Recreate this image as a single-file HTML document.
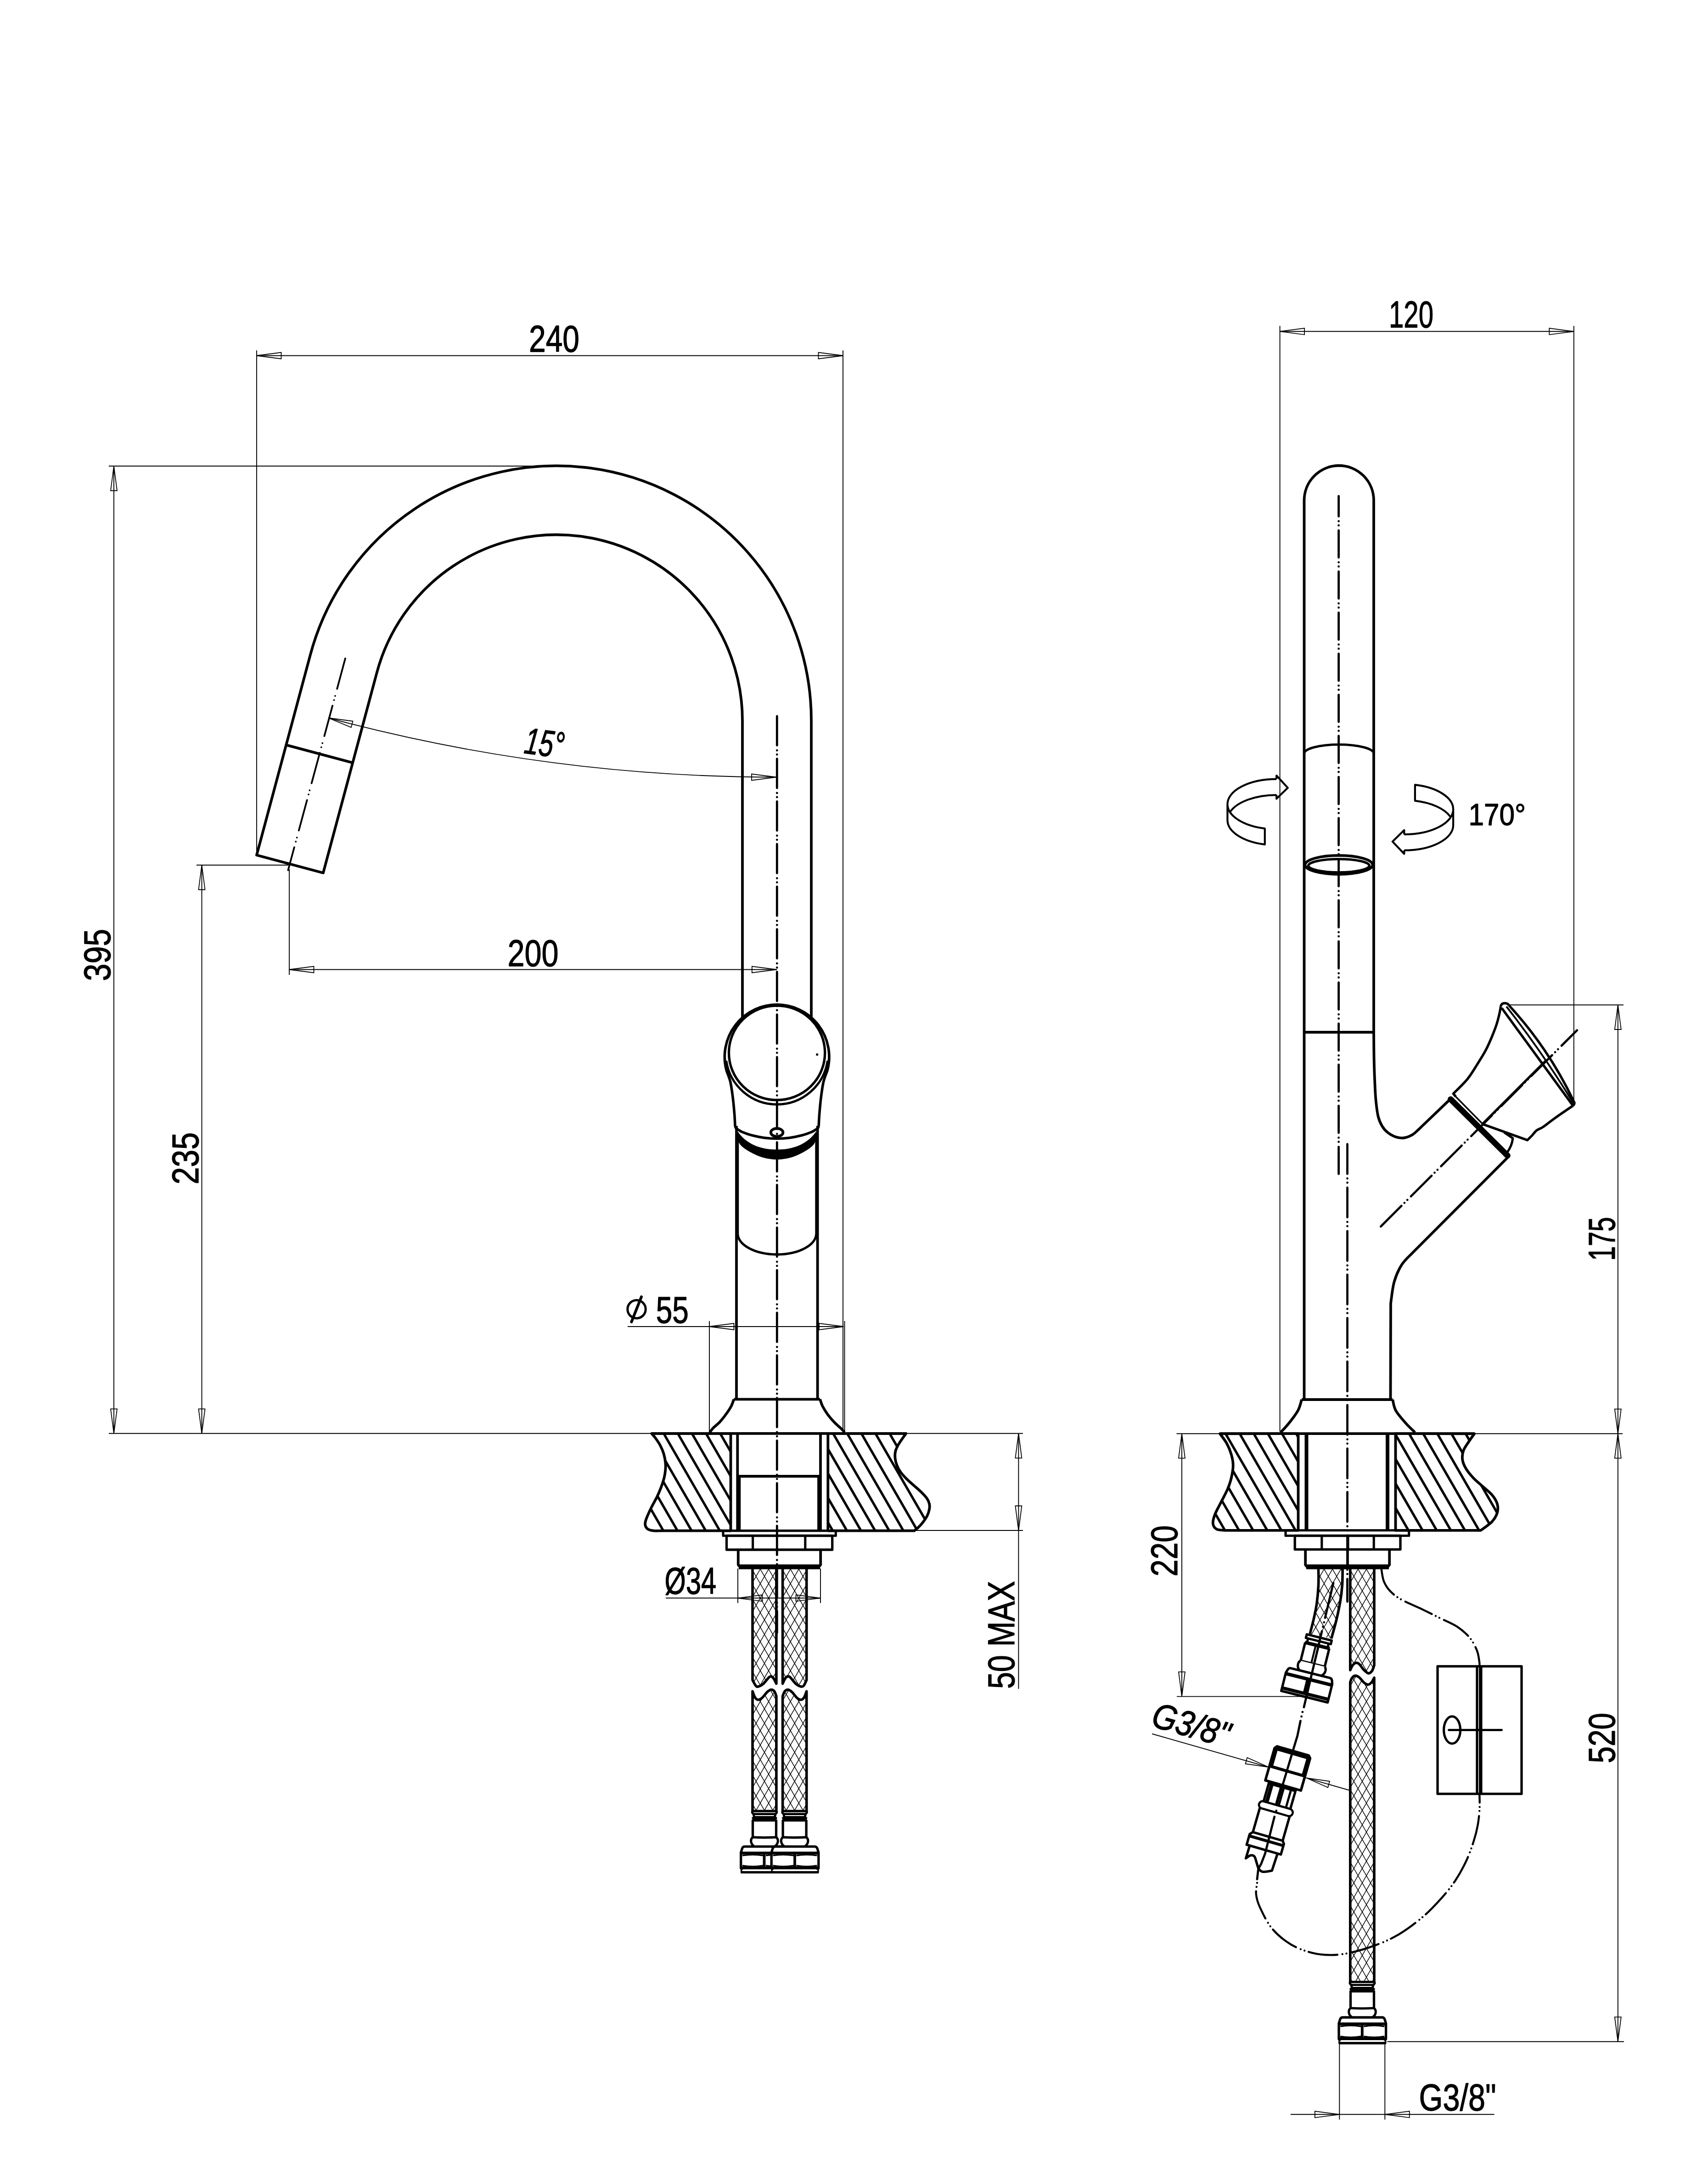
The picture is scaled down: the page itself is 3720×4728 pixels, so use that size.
<!DOCTYPE html>
<html><head><meta charset="utf-8"><title>Faucet technical drawing</title>
<style>html,body{margin:0;padding:0;background:#fff}svg{display:block}text{font-family:"Liberation Sans",sans-serif;fill:#000;stroke:#000;stroke-width:1.3px;stroke-linejoin:round}</style>
</head><body>
<svg width="3720" height="4728" viewBox="0 0 3720 4728" fill="none" stroke="#000" stroke-linecap="butt" stroke-linejoin="round">
<rect x="0" y="0" width="3720" height="4728" fill="#fff" stroke="none"/>
<g id="left-view">
<line x1="559" y1="763" x2="559" y2="1863" stroke-width="1.9" />
<line x1="1836" y1="763" x2="1836" y2="3121" stroke-width="1.9" />
<line x1="559" y1="774.5" x2="1836" y2="774.5" stroke-width="1.9" />
<path d="M559 774.5 L612.5 767.5 L612.5 781.5Z" stroke-width="1.8" fill="none" stroke-linejoin="miter"/>
<path d="M1836 774.5 L1782.5 781.5 L1782.5 767.5Z" stroke-width="1.8" fill="none" stroke-linejoin="miter"/>
<line x1="237" y1="1015" x2="1212" y2="1015" stroke-width="1.9" />
<line x1="237" y1="3121.8" x2="2228" y2="3121.8" stroke-width="1.9" />
<line x1="248" y1="1015" x2="248" y2="3121.8" stroke-width="1.9" />
<path d="M248 1015 L255 1068.5 L241 1068.5Z" stroke-width="1.8" fill="none" stroke-linejoin="miter"/>
<path d="M248 3121.8 L241 3068.3 L255 3068.3Z" stroke-width="1.8" fill="none" stroke-linejoin="miter"/>
<line x1="428" y1="1884" x2="628" y2="1884" stroke-width="1.9" />
<line x1="439.5" y1="1884" x2="439.5" y2="3121.8" stroke-width="1.9" />
<path d="M439.5 1884 L446.5 1937.5 L432.5 1937.5Z" stroke-width="1.8" fill="none" stroke-linejoin="miter"/>
<path d="M439.5 3121.8 L432.5 3068.3 L446.5 3068.3Z" stroke-width="1.8" fill="none" stroke-linejoin="miter"/>
<line x1="630" y1="1893" x2="630" y2="2123" stroke-width="1.9" />
<line x1="630" y1="2111.5" x2="1692.3" y2="2111.5" stroke-width="1.9" />
<path d="M630 2111.5 L683.5 2104.5 L683.5 2118.5Z" stroke-width="1.8" fill="none" stroke-linejoin="miter"/>
<path d="M1691.3 2111.5 L1637.8 2118.5 L1637.8 2104.5Z" stroke-width="1.8" fill="none" stroke-linejoin="miter"/>
<path d="M715 1563.5 A3767 3767 0 0 0 1690 1692.5" stroke-width="1.9" fill="none" />
<path d="M715 1563.5 L768.5 1570.6 L764.9 1584.1Z" stroke-width="1.8" fill="none" stroke-linejoin="miter"/>
<path d="M1690.5 1692.5 L1637 1699.5 L1637 1685.5Z" stroke-width="1.8" fill="none" stroke-linejoin="miter"/>
<line x1="1367" y1="2889" x2="1837" y2="2889" stroke-width="1.9" />
<line x1="1545" y1="2877" x2="1545" y2="3119" stroke-width="1.9" />
<line x1="1839.5" y1="2877" x2="1839.5" y2="3120" stroke-width="1.9" />
<path d="M1545 2889 L1598.5 2882 L1598.5 2896Z" stroke-width="1.8" fill="none" stroke-linejoin="miter"/>
<path d="M1837.5 2889 L1784 2896 L1784 2882Z" stroke-width="1.8" fill="none" stroke-linejoin="miter"/>
<line x1="1450" y1="3480.3" x2="1787" y2="3480.3" stroke-width="1.9" />
<line x1="1607" y1="3416" x2="1607" y2="3491" stroke-width="1.9" />
<line x1="1787" y1="3416" x2="1787" y2="3491" stroke-width="1.9" />
<path d="M1607 3480.3 L1660.5 3473.3 L1660.5 3487.3Z" stroke-width="1.8" fill="none" stroke-linejoin="miter"/>
<path d="M1787 3480.3 L1733.5 3487.3 L1733.5 3473.3Z" stroke-width="1.8" fill="none" stroke-linejoin="miter"/>
<line x1="1994" y1="3333" x2="2228" y2="3333" stroke-width="1.9" />
<line x1="2218.4" y1="3121.8" x2="2218.4" y2="3678" stroke-width="1.9" />
<path d="M2218.4 3121.8 L2225.4 3175.3 L2211.4 3175.3Z" stroke-width="1.8" fill="none" stroke-linejoin="miter"/>
<path d="M2218.4 3333 L2211.4 3279.5 L2225.4 3279.5Z" stroke-width="1.8" fill="none" stroke-linejoin="miter"/>
<path d="M559 1862.2 L675.9 1425.9 A555 555 0 0 1 1767 1569.5 L1767 2216.5" stroke-width="5.8" fill="none" />
<path d="M703.9 1901 L820.8 1464.7 A405 405 0 0 1 1617 1569.5 L1617 2216.5" stroke-width="5.8" fill="none" />
<path d="M559 1862.2 L703.9 1901" stroke-width="5.8" fill="none" stroke-linecap="round"/>
<path d="M623.2 1622.4 L768.1 1661.2" stroke-width="5.8" fill="none" />
<path d="M752 1434 L627.5 1895" stroke-width="3.8" fill="none" stroke-linecap="round" stroke-dasharray="68.5 16 0 9.3 0 12.7" stroke-dashoffset="0"/>
<path d="M1600.8 2447 C1600.6 2443.1 1600.2 2433.5 1599.4 2423.8 C1598.6 2414 1597.4 2400.1 1595.9 2388.8 C1594.4 2377.4 1592.9 2365.3 1590.6 2355.5 C1588.3 2345.7 1583.8 2336.8 1581.9 2330 A113.8 113.8 0 1 1 1802.3 2330 C1800.4 2336.8 1795.9 2345.7 1793.6 2355.5 C1791.3 2365.3 1789.8 2377.4 1788.3 2388.8 C1786.8 2400.1 1785.6 2414 1784.8 2423.8 C1784 2433.5 1783.6 2443.1 1783.4 2447 Q1783.4 2455 1780.8 2457.5 C1778.4 2458.9 1772.3 2463.2 1766.4 2465.8 C1760.6 2468.3 1753.3 2470.7 1745.4 2472.8 C1737.6 2474.8 1728.1 2476.8 1719.2 2478 C1710.3 2479.2 1701.1 2479.8 1692.1 2479.8 C1683.1 2479.8 1673.9 2479.2 1665 2478 C1656.1 2476.8 1646.6 2474.8 1638.8 2472.8 C1630.9 2470.7 1623.6 2468.3 1617.8 2465.8 C1611.9 2463.2 1605.8 2458.9 1603.4 2457.5 Q1600.8 2455 1600.8 2447Z" stroke-width="5.6" fill="none" />
<ellipse cx="1692.1" cy="2292.9" rx="104.6" ry="102.8" stroke-width="5.3" fill="none"/>
<path d="M1581.8 2310 A111.5 111.5 0 0 0 1802.4 2310" stroke-width="4.9" fill="none" />
<ellipse cx="1692.1" cy="2466.3" rx="13.3" ry="8.8" stroke-width="5.8" fill="none"/>
<circle cx="1779.7" cy="2296.5" r="2.6" fill="#000" stroke="none"/>
<path d="M1607 2466.5 C1609.4 2469 1615.1 2476.7 1621.2 2481.5 C1627.4 2486.3 1636.1 2492 1644 2495.5 C1651.9 2499 1660.5 2501 1668.5 2502.5 C1676.5 2504 1684.2 2504.2 1692.1 2504.2 C1700 2504.2 1707.7 2504 1715.7 2502.5 C1723.7 2501 1732.3 2499 1740.2 2495.5 C1748.1 2492 1756.8 2486.3 1762.9 2481.5 C1769.1 2476.7 1774.8 2469 1777.2 2466.5 L1781 2468 C1779.4 2472 1776.7 2485.4 1771.7 2492 C1766.6 2498.6 1758.9 2503.1 1750.7 2507.8 C1742.5 2512.4 1732.5 2517.2 1722.7 2520 C1712.9 2522.8 1702.3 2524.4 1692.1 2524.4 C1681.9 2524.4 1671.3 2522.8 1661.5 2520 C1651.7 2517.2 1641.7 2512.4 1633.5 2507.8 C1625.3 2503.1 1617.5 2498.6 1612.5 2492 C1607.5 2485.4 1604.8 2472 1603.2 2468Z" stroke-width="1.5" fill="#000" />
<path d="M1606.6 2466 L1606.6 2686 A85.7 46 0 0 0 1778 2686 L1778 2466" stroke-width="5.3" fill="none" />
<line x1="1604" y1="2452" x2="1604" y2="3047.3" stroke-width="5.8" />
<line x1="1780.6" y1="2452" x2="1780.6" y2="3047.3" stroke-width="5.8" />
<line x1="1598.4" y1="3047.3" x2="1786" y2="3047.3" stroke-width="5.8" />
<path d="M1598.4 3047.3 C1597.4 3049.8 1595.2 3057.2 1592.5 3062.5 C1589.8 3067.8 1586.1 3073.2 1582 3078.9 C1577.9 3084.6 1572.6 3091.4 1567.9 3096.5 C1563.2 3101.6 1557.6 3105.5 1553.9 3109.3 C1550.2 3113.1 1547.1 3117.8 1545.7 3119.5" stroke-width="5.8" fill="none" />
<path d="M1786 3047.3 C1786.9 3049.8 1788.7 3056.8 1791.6 3062.5 C1794.5 3068.2 1798.8 3075.1 1803.3 3081.2 C1807.8 3087.2 1813.6 3093.7 1818.5 3098.8 C1823.4 3103.9 1829.1 3108.2 1832.6 3111.7 C1836.1 3115.1 1838.4 3118.2 1839.6 3119.5" stroke-width="5.8" fill="none" />
<clipPath id="hl"><path d="M1419.3 3121.9 C1420.8 3123.7 1424.8 3128 1428 3132.4 C1431.2 3136.8 1435.4 3142.9 1438.3 3148.5 C1441.2 3154.1 1443.8 3160 1445.6 3166.1 C1447.4 3172.2 1448.7 3179.2 1449.3 3185.1 C1449.9 3190.9 1449.8 3195.6 1449.3 3201.2 C1448.8 3206.8 1448 3212.5 1446.4 3218.8 C1444.8 3225.2 1442.4 3232.5 1439.8 3239.3 C1437.2 3246.1 1434.4 3252.7 1431 3259.8 C1427.6 3266.9 1422.8 3274.6 1419.3 3281.7 C1415.8 3288.8 1412.1 3296.6 1409.8 3302.2 C1407.5 3307.8 1406 3311.7 1405.4 3315.4 C1404.8 3319.1 1405 3321.6 1406.1 3324.2 C1407.2 3326.8 1409.1 3329.2 1412 3330.8 C1414.9 3332.4 1418.1 3333.1 1423.7 3333.6 C1429.3 3334.1 1441.9 3333.6 1445.6 3333.6 L1591.5 3333.6 L1591.5 3121.8Z"/></clipPath>
<g clip-path="url(#hl)">
<line x1="1311" y1="3101.8" x2="1456.3" y2="3353.6" stroke-width="5.3" />
<line x1="1341.7" y1="3101.8" x2="1487.1" y2="3353.6" stroke-width="5.3" />
<line x1="1372.5" y1="3101.8" x2="1517.8" y2="3353.6" stroke-width="5.3" />
<line x1="1403.2" y1="3101.8" x2="1548.6" y2="3353.6" stroke-width="5.3" />
<line x1="1434" y1="3101.8" x2="1579.3" y2="3353.6" stroke-width="5.3" />
<line x1="1464.7" y1="3101.8" x2="1610.1" y2="3353.6" stroke-width="5.3" />
<line x1="1495.5" y1="3101.8" x2="1640.8" y2="3353.6" stroke-width="5.3" />
<line x1="1526.2" y1="3101.8" x2="1671.6" y2="3353.6" stroke-width="5.3" />
<line x1="1557" y1="3101.8" x2="1702.3" y2="3353.6" stroke-width="5.3" />
<line x1="1587.7" y1="3101.8" x2="1733.1" y2="3353.6" stroke-width="5.3" />
<line x1="1618.5" y1="3101.8" x2="1763.8" y2="3353.6" stroke-width="5.3" />
<line x1="1649.2" y1="3101.8" x2="1794.6" y2="3353.6" stroke-width="5.3" />
</g>
<path d="M1419.3 3121.9 C1420.8 3123.7 1424.8 3128 1428 3132.4 C1431.2 3136.8 1435.4 3142.9 1438.3 3148.5 C1441.2 3154.1 1443.8 3160 1445.6 3166.1 C1447.4 3172.2 1448.7 3179.2 1449.3 3185.1 C1449.9 3190.9 1449.8 3195.6 1449.3 3201.2 C1448.8 3206.8 1448 3212.5 1446.4 3218.8 C1444.8 3225.2 1442.4 3232.5 1439.8 3239.3 C1437.2 3246.1 1434.4 3252.7 1431 3259.8 C1427.6 3266.9 1422.8 3274.6 1419.3 3281.7 C1415.8 3288.8 1412.1 3296.6 1409.8 3302.2 C1407.5 3307.8 1406 3311.7 1405.4 3315.4 C1404.8 3319.1 1405 3321.6 1406.1 3324.2 C1407.2 3326.8 1409.1 3329.2 1412 3330.8 C1414.9 3332.4 1418.1 3333.1 1423.7 3333.6 C1429.3 3334.1 1441.9 3333.6 1445.6 3333.6 L1591.5 3333.6 L1591.5 3121.8Z" stroke-width="5.8" fill="none" />
<clipPath id="hr"><path d="M1973.3 3121.9 C1972.2 3123.4 1969.4 3127 1966.7 3131 C1964 3135 1959.6 3140.8 1956.9 3145.7 C1954.2 3150.6 1951.5 3155.6 1950.3 3160.5 C1949.1 3165.4 1949 3170 1949.5 3175.2 C1950 3180.4 1951.5 3186.4 1953.6 3191.6 C1955.6 3196.8 1958.2 3201.5 1961.8 3206.4 C1965.3 3211.3 1970 3216.2 1974.9 3221.1 C1979.8 3226 1985.8 3231 1991.3 3235.9 C1996.8 3240.8 2003 3246 2007.7 3250.7 C2012.4 3255.3 2016.5 3259.7 2019.2 3263.8 C2021.9 3267.9 2023.3 3271.4 2024.1 3275.2 C2024.9 3279 2024.9 3282.3 2024.1 3286.7 C2023.3 3291.1 2021.7 3296.6 2019.2 3301.5 C2016.7 3306.4 2012.6 3312 2009.3 3316.2 C2006 3320.4 2002.5 3324 1999.5 3326.9 C1996.5 3329.8 1992.7 3332.5 1991.3 3333.6 L1803.3 3333.6 L1803.3 3121.8Z"/></clipPath>
<g clip-path="url(#hr)">
<line x1="1464.7" y1="3101.8" x2="1610.1" y2="3353.6" stroke-width="5.3" />
<line x1="1495.5" y1="3101.8" x2="1640.8" y2="3353.6" stroke-width="5.3" />
<line x1="1526.2" y1="3101.8" x2="1671.6" y2="3353.6" stroke-width="5.3" />
<line x1="1557" y1="3101.8" x2="1702.3" y2="3353.6" stroke-width="5.3" />
<line x1="1587.7" y1="3101.8" x2="1733.1" y2="3353.6" stroke-width="5.3" />
<line x1="1618.5" y1="3101.8" x2="1763.8" y2="3353.6" stroke-width="5.3" />
<line x1="1649.2" y1="3101.8" x2="1794.6" y2="3353.6" stroke-width="5.3" />
<line x1="1680" y1="3101.8" x2="1825.3" y2="3353.6" stroke-width="5.3" />
<line x1="1710.7" y1="3101.8" x2="1856.1" y2="3353.6" stroke-width="5.3" />
<line x1="1741.5" y1="3101.8" x2="1886.8" y2="3353.6" stroke-width="5.3" />
<line x1="1772.2" y1="3101.8" x2="1917.6" y2="3353.6" stroke-width="5.3" />
<line x1="1803" y1="3101.8" x2="1948.3" y2="3353.6" stroke-width="5.3" />
<line x1="1833.7" y1="3101.8" x2="1979.1" y2="3353.6" stroke-width="5.3" />
<line x1="1864.5" y1="3101.8" x2="2009.8" y2="3353.6" stroke-width="5.3" />
<line x1="1895.2" y1="3101.8" x2="2040.6" y2="3353.6" stroke-width="5.3" />
<line x1="1926" y1="3101.8" x2="2071.3" y2="3353.6" stroke-width="5.3" />
<line x1="1956.7" y1="3101.8" x2="2102.1" y2="3353.6" stroke-width="5.3" />
<line x1="1987.5" y1="3101.8" x2="2132.8" y2="3353.6" stroke-width="5.3" />
<line x1="2018.2" y1="3101.8" x2="2163.6" y2="3353.6" stroke-width="5.3" />
<line x1="2049" y1="3101.8" x2="2194.3" y2="3353.6" stroke-width="5.3" />
<line x1="2079.7" y1="3101.8" x2="2225.1" y2="3353.6" stroke-width="5.3" />
</g>
<path d="M1973.3 3121.9 C1972.2 3123.4 1969.4 3127 1966.7 3131 C1964 3135 1959.6 3140.8 1956.9 3145.7 C1954.2 3150.6 1951.5 3155.6 1950.3 3160.5 C1949.1 3165.4 1949 3170 1949.5 3175.2 C1950 3180.4 1951.5 3186.4 1953.6 3191.6 C1955.6 3196.8 1958.2 3201.5 1961.8 3206.4 C1965.3 3211.3 1970 3216.2 1974.9 3221.1 C1979.8 3226 1985.8 3231 1991.3 3235.9 C1996.8 3240.8 2003 3246 2007.7 3250.7 C2012.4 3255.3 2016.5 3259.7 2019.2 3263.8 C2021.9 3267.9 2023.3 3271.4 2024.1 3275.2 C2024.9 3279 2024.9 3282.3 2024.1 3286.7 C2023.3 3291.1 2021.7 3296.6 2019.2 3301.5 C2016.7 3306.4 2012.6 3312 2009.3 3316.2 C2006 3320.4 2002.5 3324 1999.5 3326.9 C1996.5 3329.8 1992.7 3332.5 1991.3 3333.6 L1803.3 3333.6 L1803.3 3121.8Z" stroke-width="5.8" fill="none" />
<line x1="1419.3" y1="3121.8" x2="1973.3" y2="3121.8" stroke-width="5.8" />
<line x1="1606.3" y1="3121.8" x2="1606.3" y2="3333.6" stroke-width="5.8" />
<line x1="1787" y1="3121.8" x2="1787" y2="3333.6" stroke-width="5.8" />
<line x1="1606.3" y1="3215" x2="1787" y2="3215" stroke-width="5.8" />
<line x1="1610.3" y1="3215" x2="1610.3" y2="3333.6" stroke-width="5.8" />
<line x1="1783" y1="3215" x2="1783" y2="3333.6" stroke-width="5.8" />
<rect x="1575" y="3333.6" width="245.3" height="10.9" stroke-width="5.1" fill="none"/>
<rect x="1582.5" y="3344.5" width="230.2" height="30.5" stroke-width="5.3" fill="none"/>
<line x1="1639.6" y1="3344.5" x2="1639.6" y2="3375" stroke-width="5.1" />
<line x1="1753.8" y1="3344.5" x2="1753.8" y2="3375" stroke-width="5.1" />
<path d="M1607.8 3375 L1607.8 3408 L1612 3413 L1783 3413 L1787.2 3408 L1787.2 3375" stroke-width="5.8" fill="none" />
<line x1="1609" y1="3412.3" x2="1786" y2="3412.3" stroke-width="10.5" />
<clipPath id="cua"><path d="M1639 3416 L1639 3658.7 C1640.2 3660.8 1644 3668.6 1646 3671 C1648 3673.4 1648.6 3673.7 1651.3 3673.1 C1654 3672.5 1658.1 3670.8 1661.9 3667.5 C1665.7 3664.2 1671.3 3656.3 1674.2 3653.5 C1677.1 3650.7 1677.7 3650.5 1679.4 3650.8 C1681.2 3651.1 1682.8 3652.6 1684.7 3655.2 C1686.6 3657.8 1689.9 3664.7 1690.9 3666.6 L1690.9 3416Z"/></clipPath><g clip-path="url(#cua)">
<line x1="1634" y1="3158.2" x2="1695.9" y2="3265.4" stroke-width="1.5" />
<line x1="1634" y1="3265.4" x2="1695.9" y2="3158.2" stroke-width="1.5" />
<line x1="1634" y1="3189.8" x2="1695.9" y2="3297" stroke-width="1.5" />
<line x1="1634" y1="3297" x2="1695.9" y2="3189.8" stroke-width="1.5" />
<line x1="1634" y1="3221.4" x2="1695.9" y2="3328.6" stroke-width="1.5" />
<line x1="1634" y1="3328.6" x2="1695.9" y2="3221.4" stroke-width="1.5" />
<line x1="1634" y1="3253" x2="1695.9" y2="3360.2" stroke-width="1.5" />
<line x1="1634" y1="3360.2" x2="1695.9" y2="3253" stroke-width="1.5" />
<line x1="1634" y1="3284.6" x2="1695.9" y2="3391.8" stroke-width="1.5" />
<line x1="1634" y1="3391.8" x2="1695.9" y2="3284.6" stroke-width="1.5" />
<line x1="1634" y1="3316.2" x2="1695.9" y2="3423.4" stroke-width="1.5" />
<line x1="1634" y1="3423.4" x2="1695.9" y2="3316.2" stroke-width="1.5" />
<line x1="1634" y1="3347.8" x2="1695.9" y2="3455" stroke-width="1.5" />
<line x1="1634" y1="3455" x2="1695.9" y2="3347.8" stroke-width="1.5" />
<line x1="1634" y1="3379.4" x2="1695.9" y2="3486.6" stroke-width="1.5" />
<line x1="1634" y1="3486.6" x2="1695.9" y2="3379.4" stroke-width="1.5" />
<line x1="1634" y1="3411" x2="1695.9" y2="3518.2" stroke-width="1.5" />
<line x1="1634" y1="3518.2" x2="1695.9" y2="3411" stroke-width="1.5" />
<line x1="1634" y1="3442.6" x2="1695.9" y2="3549.8" stroke-width="1.5" />
<line x1="1634" y1="3549.8" x2="1695.9" y2="3442.6" stroke-width="1.5" />
<line x1="1634" y1="3474.2" x2="1695.9" y2="3581.4" stroke-width="1.5" />
<line x1="1634" y1="3581.4" x2="1695.9" y2="3474.2" stroke-width="1.5" />
<line x1="1634" y1="3505.8" x2="1695.9" y2="3613" stroke-width="1.5" />
<line x1="1634" y1="3613" x2="1695.9" y2="3505.8" stroke-width="1.5" />
<line x1="1634" y1="3537.4" x2="1695.9" y2="3644.6" stroke-width="1.5" />
<line x1="1634" y1="3644.6" x2="1695.9" y2="3537.4" stroke-width="1.5" />
<line x1="1634" y1="3569" x2="1695.9" y2="3676.2" stroke-width="1.5" />
<line x1="1634" y1="3676.2" x2="1695.9" y2="3569" stroke-width="1.5" />
<line x1="1634" y1="3600.6" x2="1695.9" y2="3707.8" stroke-width="1.5" />
<line x1="1634" y1="3707.8" x2="1695.9" y2="3600.6" stroke-width="1.5" />
<line x1="1634" y1="3632.2" x2="1695.9" y2="3739.4" stroke-width="1.5" />
<line x1="1634" y1="3739.4" x2="1695.9" y2="3632.2" stroke-width="1.5" />
<line x1="1634" y1="3663.8" x2="1695.9" y2="3771" stroke-width="1.5" />
<line x1="1634" y1="3771" x2="1695.9" y2="3663.8" stroke-width="1.5" />
<line x1="1634" y1="3695.4" x2="1695.9" y2="3802.6" stroke-width="1.5" />
<line x1="1634" y1="3802.6" x2="1695.9" y2="3695.4" stroke-width="1.5" />
<line x1="1634" y1="3727" x2="1695.9" y2="3834.2" stroke-width="1.5" />
<line x1="1634" y1="3834.2" x2="1695.9" y2="3727" stroke-width="1.5" />
<line x1="1634" y1="3758.6" x2="1695.9" y2="3865.8" stroke-width="1.5" />
<line x1="1634" y1="3865.8" x2="1695.9" y2="3758.6" stroke-width="1.5" />
<line x1="1634" y1="3790.2" x2="1695.9" y2="3897.4" stroke-width="1.5" />
<line x1="1634" y1="3897.4" x2="1695.9" y2="3790.2" stroke-width="1.5" />
<line x1="1634" y1="3821.8" x2="1695.9" y2="3929" stroke-width="1.5" />
<line x1="1634" y1="3929" x2="1695.9" y2="3821.8" stroke-width="1.5" />
<line x1="1634" y1="3853.4" x2="1695.9" y2="3960.6" stroke-width="1.5" />
<line x1="1634" y1="3960.6" x2="1695.9" y2="3853.4" stroke-width="1.5" />
</g>
<path d="M1639 3416 L1639 3658.7 C1640.2 3660.8 1644 3668.6 1646 3671 C1648 3673.4 1648.6 3673.7 1651.3 3673.1 C1654 3672.5 1658.1 3670.8 1661.9 3667.5 C1665.7 3664.2 1671.3 3656.3 1674.2 3653.5 C1677.1 3650.7 1677.7 3650.5 1679.4 3650.8 C1681.2 3651.1 1682.8 3652.6 1684.7 3655.2 C1686.6 3657.8 1689.9 3664.7 1690.9 3666.6 L1690.9 3416" stroke-width="5.6" fill="none" />
<clipPath id="cla"><path d="M1639 3944.1 L1639 3683.3 C1639.9 3685.5 1642.2 3693.4 1644.3 3696.5 C1646.3 3699.6 1648.7 3701.7 1651.3 3701.8 C1653.9 3702 1656.9 3700.2 1660.1 3697.4 C1663.3 3694.6 1667.5 3688 1670.7 3685.1 C1673.9 3682.2 1676.8 3680.1 1679.4 3679.8 C1682 3679.5 1684.6 3681 1686.5 3683.3 C1688.4 3685.7 1690.2 3692.1 1690.9 3693.9 L1690.9 3944.1Z"/></clipPath><g clip-path="url(#cla)">
<line x1="1634" y1="3415" x2="1695.9" y2="3522.2" stroke-width="1.5" />
<line x1="1634" y1="3522.2" x2="1695.9" y2="3415" stroke-width="1.5" />
<line x1="1634" y1="3446.6" x2="1695.9" y2="3553.8" stroke-width="1.5" />
<line x1="1634" y1="3553.8" x2="1695.9" y2="3446.6" stroke-width="1.5" />
<line x1="1634" y1="3478.2" x2="1695.9" y2="3585.4" stroke-width="1.5" />
<line x1="1634" y1="3585.4" x2="1695.9" y2="3478.2" stroke-width="1.5" />
<line x1="1634" y1="3509.8" x2="1695.9" y2="3617" stroke-width="1.5" />
<line x1="1634" y1="3617" x2="1695.9" y2="3509.8" stroke-width="1.5" />
<line x1="1634" y1="3541.4" x2="1695.9" y2="3648.6" stroke-width="1.5" />
<line x1="1634" y1="3648.6" x2="1695.9" y2="3541.4" stroke-width="1.5" />
<line x1="1634" y1="3573" x2="1695.9" y2="3680.2" stroke-width="1.5" />
<line x1="1634" y1="3680.2" x2="1695.9" y2="3573" stroke-width="1.5" />
<line x1="1634" y1="3604.6" x2="1695.9" y2="3711.8" stroke-width="1.5" />
<line x1="1634" y1="3711.8" x2="1695.9" y2="3604.6" stroke-width="1.5" />
<line x1="1634" y1="3636.2" x2="1695.9" y2="3743.4" stroke-width="1.5" />
<line x1="1634" y1="3743.4" x2="1695.9" y2="3636.2" stroke-width="1.5" />
<line x1="1634" y1="3667.8" x2="1695.9" y2="3775" stroke-width="1.5" />
<line x1="1634" y1="3775" x2="1695.9" y2="3667.8" stroke-width="1.5" />
<line x1="1634" y1="3699.4" x2="1695.9" y2="3806.6" stroke-width="1.5" />
<line x1="1634" y1="3806.6" x2="1695.9" y2="3699.4" stroke-width="1.5" />
<line x1="1634" y1="3731" x2="1695.9" y2="3838.2" stroke-width="1.5" />
<line x1="1634" y1="3838.2" x2="1695.9" y2="3731" stroke-width="1.5" />
<line x1="1634" y1="3762.6" x2="1695.9" y2="3869.8" stroke-width="1.5" />
<line x1="1634" y1="3869.8" x2="1695.9" y2="3762.6" stroke-width="1.5" />
<line x1="1634" y1="3794.2" x2="1695.9" y2="3901.4" stroke-width="1.5" />
<line x1="1634" y1="3901.4" x2="1695.9" y2="3794.2" stroke-width="1.5" />
<line x1="1634" y1="3825.8" x2="1695.9" y2="3933" stroke-width="1.5" />
<line x1="1634" y1="3933" x2="1695.9" y2="3825.8" stroke-width="1.5" />
<line x1="1634" y1="3857.4" x2="1695.9" y2="3964.6" stroke-width="1.5" />
<line x1="1634" y1="3964.6" x2="1695.9" y2="3857.4" stroke-width="1.5" />
<line x1="1634" y1="3889" x2="1695.9" y2="3996.2" stroke-width="1.5" />
<line x1="1634" y1="3996.2" x2="1695.9" y2="3889" stroke-width="1.5" />
<line x1="1634" y1="3920.6" x2="1695.9" y2="4027.8" stroke-width="1.5" />
<line x1="1634" y1="4027.8" x2="1695.9" y2="3920.6" stroke-width="1.5" />
<line x1="1634" y1="3952.2" x2="1695.9" y2="4059.4" stroke-width="1.5" />
<line x1="1634" y1="4059.4" x2="1695.9" y2="3952.2" stroke-width="1.5" />
<line x1="1634" y1="3983.8" x2="1695.9" y2="4091" stroke-width="1.5" />
<line x1="1634" y1="4091" x2="1695.9" y2="3983.8" stroke-width="1.5" />
<line x1="1634" y1="4015.4" x2="1695.9" y2="4122.6" stroke-width="1.5" />
<line x1="1634" y1="4122.6" x2="1695.9" y2="4015.4" stroke-width="1.5" />
<line x1="1634" y1="4047" x2="1695.9" y2="4154.2" stroke-width="1.5" />
<line x1="1634" y1="4154.2" x2="1695.9" y2="4047" stroke-width="1.5" />
<line x1="1634" y1="4078.6" x2="1695.9" y2="4185.8" stroke-width="1.5" />
<line x1="1634" y1="4185.8" x2="1695.9" y2="4078.6" stroke-width="1.5" />
<line x1="1634" y1="4110.2" x2="1695.9" y2="4217.4" stroke-width="1.5" />
<line x1="1634" y1="4217.4" x2="1695.9" y2="4110.2" stroke-width="1.5" />
</g>
<path d="M1639 3944.1 L1639 3683.3 C1639.9 3685.5 1642.2 3693.4 1644.3 3696.5 C1646.3 3699.6 1648.7 3701.7 1651.3 3701.8 C1653.9 3702 1656.9 3700.2 1660.1 3697.4 C1663.3 3694.6 1667.5 3688 1670.7 3685.1 C1673.9 3682.2 1676.8 3680.1 1679.4 3679.8 C1682 3679.5 1684.6 3681 1686.5 3683.3 C1688.4 3685.7 1690.2 3692.1 1690.9 3693.9 L1690.9 3944.1" stroke-width="5.6" fill="none" />
<clipPath id="cub"><path d="M1704.6 3416 L1704.6 3666.6 C1705.5 3664.7 1708.2 3657.8 1710.2 3655.2 C1712.2 3652.6 1714.4 3651.1 1716.3 3650.8 C1718.2 3650.5 1718.7 3650.7 1721.6 3653.5 C1724.5 3656.3 1730.1 3664.2 1733.9 3667.5 C1737.7 3670.8 1741.6 3672.5 1744.4 3673.1 C1747.2 3673.7 1748.5 3673.4 1750.6 3671 C1752.6 3668.6 1755.7 3660.8 1756.7 3658.7 L1756.7 3416Z"/></clipPath><g clip-path="url(#cub)">
<line x1="1699.6" y1="3158" x2="1761.7" y2="3265.6" stroke-width="1.5" />
<line x1="1699.6" y1="3265.6" x2="1761.7" y2="3158" stroke-width="1.5" />
<line x1="1699.6" y1="3189.6" x2="1761.7" y2="3297.2" stroke-width="1.5" />
<line x1="1699.6" y1="3297.2" x2="1761.7" y2="3189.6" stroke-width="1.5" />
<line x1="1699.6" y1="3221.2" x2="1761.7" y2="3328.8" stroke-width="1.5" />
<line x1="1699.6" y1="3328.8" x2="1761.7" y2="3221.2" stroke-width="1.5" />
<line x1="1699.6" y1="3252.8" x2="1761.7" y2="3360.4" stroke-width="1.5" />
<line x1="1699.6" y1="3360.4" x2="1761.7" y2="3252.8" stroke-width="1.5" />
<line x1="1699.6" y1="3284.4" x2="1761.7" y2="3392" stroke-width="1.5" />
<line x1="1699.6" y1="3392" x2="1761.7" y2="3284.4" stroke-width="1.5" />
<line x1="1699.6" y1="3316" x2="1761.7" y2="3423.6" stroke-width="1.5" />
<line x1="1699.6" y1="3423.6" x2="1761.7" y2="3316" stroke-width="1.5" />
<line x1="1699.6" y1="3347.6" x2="1761.7" y2="3455.2" stroke-width="1.5" />
<line x1="1699.6" y1="3455.2" x2="1761.7" y2="3347.6" stroke-width="1.5" />
<line x1="1699.6" y1="3379.2" x2="1761.7" y2="3486.8" stroke-width="1.5" />
<line x1="1699.6" y1="3486.8" x2="1761.7" y2="3379.2" stroke-width="1.5" />
<line x1="1699.6" y1="3410.8" x2="1761.7" y2="3518.4" stroke-width="1.5" />
<line x1="1699.6" y1="3518.4" x2="1761.7" y2="3410.8" stroke-width="1.5" />
<line x1="1699.6" y1="3442.4" x2="1761.7" y2="3550" stroke-width="1.5" />
<line x1="1699.6" y1="3550" x2="1761.7" y2="3442.4" stroke-width="1.5" />
<line x1="1699.6" y1="3474" x2="1761.7" y2="3581.6" stroke-width="1.5" />
<line x1="1699.6" y1="3581.6" x2="1761.7" y2="3474" stroke-width="1.5" />
<line x1="1699.6" y1="3505.6" x2="1761.7" y2="3613.2" stroke-width="1.5" />
<line x1="1699.6" y1="3613.2" x2="1761.7" y2="3505.6" stroke-width="1.5" />
<line x1="1699.6" y1="3537.2" x2="1761.7" y2="3644.8" stroke-width="1.5" />
<line x1="1699.6" y1="3644.8" x2="1761.7" y2="3537.2" stroke-width="1.5" />
<line x1="1699.6" y1="3568.8" x2="1761.7" y2="3676.4" stroke-width="1.5" />
<line x1="1699.6" y1="3676.4" x2="1761.7" y2="3568.8" stroke-width="1.5" />
<line x1="1699.6" y1="3600.4" x2="1761.7" y2="3708" stroke-width="1.5" />
<line x1="1699.6" y1="3708" x2="1761.7" y2="3600.4" stroke-width="1.5" />
<line x1="1699.6" y1="3632" x2="1761.7" y2="3739.6" stroke-width="1.5" />
<line x1="1699.6" y1="3739.6" x2="1761.7" y2="3632" stroke-width="1.5" />
<line x1="1699.6" y1="3663.6" x2="1761.7" y2="3771.2" stroke-width="1.5" />
<line x1="1699.6" y1="3771.2" x2="1761.7" y2="3663.6" stroke-width="1.5" />
<line x1="1699.6" y1="3695.2" x2="1761.7" y2="3802.8" stroke-width="1.5" />
<line x1="1699.6" y1="3802.8" x2="1761.7" y2="3695.2" stroke-width="1.5" />
<line x1="1699.6" y1="3726.8" x2="1761.7" y2="3834.4" stroke-width="1.5" />
<line x1="1699.6" y1="3834.4" x2="1761.7" y2="3726.8" stroke-width="1.5" />
<line x1="1699.6" y1="3758.4" x2="1761.7" y2="3866" stroke-width="1.5" />
<line x1="1699.6" y1="3866" x2="1761.7" y2="3758.4" stroke-width="1.5" />
<line x1="1699.6" y1="3790" x2="1761.7" y2="3897.6" stroke-width="1.5" />
<line x1="1699.6" y1="3897.6" x2="1761.7" y2="3790" stroke-width="1.5" />
<line x1="1699.6" y1="3821.6" x2="1761.7" y2="3929.2" stroke-width="1.5" />
<line x1="1699.6" y1="3929.2" x2="1761.7" y2="3821.6" stroke-width="1.5" />
<line x1="1699.6" y1="3853.2" x2="1761.7" y2="3960.8" stroke-width="1.5" />
<line x1="1699.6" y1="3960.8" x2="1761.7" y2="3853.2" stroke-width="1.5" />
</g>
<path d="M1704.6 3416 L1704.6 3666.6 C1705.5 3664.7 1708.2 3657.8 1710.2 3655.2 C1712.2 3652.6 1714.4 3651.1 1716.3 3650.8 C1718.2 3650.5 1718.7 3650.7 1721.6 3653.5 C1724.5 3656.3 1730.1 3664.2 1733.9 3667.5 C1737.7 3670.8 1741.6 3672.5 1744.4 3673.1 C1747.2 3673.7 1748.5 3673.4 1750.6 3671 C1752.6 3668.6 1755.7 3660.8 1756.7 3658.7 L1756.7 3416" stroke-width="5.6" fill="none" />
<clipPath id="clb"><path d="M1704.6 3944.1 L1704.6 3693.9 C1705.4 3692.1 1707.3 3685.7 1709.3 3683.3 C1711.2 3681 1713.7 3679.5 1716.3 3679.8 C1718.9 3680.1 1721.9 3682.2 1725.1 3685.1 C1728.3 3688 1732.4 3694.6 1735.6 3697.4 C1738.8 3700.2 1741.8 3702 1744.4 3701.8 C1747 3701.7 1749.4 3699.6 1751.4 3696.5 C1753.5 3693.4 1755.8 3685.5 1756.7 3683.3 L1756.7 3944.1Z"/></clipPath><g clip-path="url(#clb)">
<line x1="1699.6" y1="3414.8" x2="1761.7" y2="3522.4" stroke-width="1.5" />
<line x1="1699.6" y1="3522.4" x2="1761.7" y2="3414.8" stroke-width="1.5" />
<line x1="1699.6" y1="3446.4" x2="1761.7" y2="3554" stroke-width="1.5" />
<line x1="1699.6" y1="3554" x2="1761.7" y2="3446.4" stroke-width="1.5" />
<line x1="1699.6" y1="3478" x2="1761.7" y2="3585.6" stroke-width="1.5" />
<line x1="1699.6" y1="3585.6" x2="1761.7" y2="3478" stroke-width="1.5" />
<line x1="1699.6" y1="3509.6" x2="1761.7" y2="3617.2" stroke-width="1.5" />
<line x1="1699.6" y1="3617.2" x2="1761.7" y2="3509.6" stroke-width="1.5" />
<line x1="1699.6" y1="3541.2" x2="1761.7" y2="3648.8" stroke-width="1.5" />
<line x1="1699.6" y1="3648.8" x2="1761.7" y2="3541.2" stroke-width="1.5" />
<line x1="1699.6" y1="3572.8" x2="1761.7" y2="3680.4" stroke-width="1.5" />
<line x1="1699.6" y1="3680.4" x2="1761.7" y2="3572.8" stroke-width="1.5" />
<line x1="1699.6" y1="3604.4" x2="1761.7" y2="3712" stroke-width="1.5" />
<line x1="1699.6" y1="3712" x2="1761.7" y2="3604.4" stroke-width="1.5" />
<line x1="1699.6" y1="3636" x2="1761.7" y2="3743.6" stroke-width="1.5" />
<line x1="1699.6" y1="3743.6" x2="1761.7" y2="3636" stroke-width="1.5" />
<line x1="1699.6" y1="3667.6" x2="1761.7" y2="3775.2" stroke-width="1.5" />
<line x1="1699.6" y1="3775.2" x2="1761.7" y2="3667.6" stroke-width="1.5" />
<line x1="1699.6" y1="3699.2" x2="1761.7" y2="3806.8" stroke-width="1.5" />
<line x1="1699.6" y1="3806.8" x2="1761.7" y2="3699.2" stroke-width="1.5" />
<line x1="1699.6" y1="3730.8" x2="1761.7" y2="3838.4" stroke-width="1.5" />
<line x1="1699.6" y1="3838.4" x2="1761.7" y2="3730.8" stroke-width="1.5" />
<line x1="1699.6" y1="3762.4" x2="1761.7" y2="3870" stroke-width="1.5" />
<line x1="1699.6" y1="3870" x2="1761.7" y2="3762.4" stroke-width="1.5" />
<line x1="1699.6" y1="3794" x2="1761.7" y2="3901.6" stroke-width="1.5" />
<line x1="1699.6" y1="3901.6" x2="1761.7" y2="3794" stroke-width="1.5" />
<line x1="1699.6" y1="3825.6" x2="1761.7" y2="3933.2" stroke-width="1.5" />
<line x1="1699.6" y1="3933.2" x2="1761.7" y2="3825.6" stroke-width="1.5" />
<line x1="1699.6" y1="3857.2" x2="1761.7" y2="3964.8" stroke-width="1.5" />
<line x1="1699.6" y1="3964.8" x2="1761.7" y2="3857.2" stroke-width="1.5" />
<line x1="1699.6" y1="3888.8" x2="1761.7" y2="3996.4" stroke-width="1.5" />
<line x1="1699.6" y1="3996.4" x2="1761.7" y2="3888.8" stroke-width="1.5" />
<line x1="1699.6" y1="3920.4" x2="1761.7" y2="4028" stroke-width="1.5" />
<line x1="1699.6" y1="4028" x2="1761.7" y2="3920.4" stroke-width="1.5" />
<line x1="1699.6" y1="3952" x2="1761.7" y2="4059.6" stroke-width="1.5" />
<line x1="1699.6" y1="4059.6" x2="1761.7" y2="3952" stroke-width="1.5" />
<line x1="1699.6" y1="3983.6" x2="1761.7" y2="4091.2" stroke-width="1.5" />
<line x1="1699.6" y1="4091.2" x2="1761.7" y2="3983.6" stroke-width="1.5" />
<line x1="1699.6" y1="4015.2" x2="1761.7" y2="4122.8" stroke-width="1.5" />
<line x1="1699.6" y1="4122.8" x2="1761.7" y2="4015.2" stroke-width="1.5" />
<line x1="1699.6" y1="4046.8" x2="1761.7" y2="4154.4" stroke-width="1.5" />
<line x1="1699.6" y1="4154.4" x2="1761.7" y2="4046.8" stroke-width="1.5" />
<line x1="1699.6" y1="4078.4" x2="1761.7" y2="4186" stroke-width="1.5" />
<line x1="1699.6" y1="4186" x2="1761.7" y2="4078.4" stroke-width="1.5" />
<line x1="1699.6" y1="4110" x2="1761.7" y2="4217.6" stroke-width="1.5" />
<line x1="1699.6" y1="4217.6" x2="1761.7" y2="4110" stroke-width="1.5" />
</g>
<path d="M1704.6 3944.1 L1704.6 3693.9 C1705.4 3692.1 1707.3 3685.7 1709.3 3683.3 C1711.2 3681 1713.7 3679.5 1716.3 3679.8 C1718.9 3680.1 1721.9 3682.2 1725.1 3685.1 C1728.3 3688 1732.4 3694.6 1735.6 3697.4 C1738.8 3700.2 1741.8 3702 1744.4 3701.8 C1747 3701.7 1749.4 3699.6 1751.4 3696.5 C1753.5 3693.4 1755.8 3685.5 1756.7 3683.3 L1756.7 3944.1" stroke-width="5.6" fill="none" />
<path d="M1622 4021.4 L1708 4021.4 Q1712 4021.4 1713.5 4025.4 L1716.3 4034.4 L1716.3 4068.4 L1714.5 4068.4 L1714.5 4077.4 L1615.5 4077.4 L1615.5 4068.4 L1613.7 4068.4 L1613.7 4034.4 L1616.5 4025.4 Q1618 4021.4 1622 4021.4Z" stroke-width="5.3" fill="#fff" />
<line x1="1613.7" y1="4035.4" x2="1716.3" y2="4035.4" stroke-width="6" />
<line x1="1613.7" y1="4067.9" x2="1716.3" y2="4067.9" stroke-width="6" />
<line x1="1616" y1="4073.4" x2="1714" y2="4073.4" stroke-width="2.2" stroke="#fff"/>
<line x1="1664.5" y1="4035.4" x2="1664.5" y2="4068.4" stroke-width="5.8" />
<path d="M1662 4040.9 Q1639.5 4036.9 1617 4040.9" stroke-width="3.5" fill="none" />
<path d="M1662 4062.9 Q1639.5 4066.9 1617 4062.9" stroke-width="3.5" fill="none" />
<path d="M1668 4040.9 Q1690.5 4036.9 1713 4040.9" stroke-width="3.5" fill="none" />
<path d="M1668 4062.9 Q1690.5 4066.9 1713 4062.9" stroke-width="3.5" fill="none" />
<path d="M1688.5 4021.4 L1774.5 4021.4 Q1778.5 4021.4 1780 4025.4 L1782.8 4034.4 L1782.8 4068.4 L1781 4068.4 L1781 4077.4 L1682 4077.4 L1682 4068.4 L1680.2 4068.4 L1680.2 4034.4 L1683 4025.4 Q1684.5 4021.4 1688.5 4021.4Z" stroke-width="5.3" fill="#fff" />
<line x1="1680.2" y1="4035.4" x2="1782.8" y2="4035.4" stroke-width="6" />
<line x1="1680.2" y1="4067.9" x2="1782.8" y2="4067.9" stroke-width="6" />
<line x1="1682.5" y1="4073.4" x2="1780.5" y2="4073.4" stroke-width="2.2" stroke="#fff"/>
<line x1="1731" y1="4035.4" x2="1731" y2="4068.4" stroke-width="5.8" />
<path d="M1728.5 4040.9 Q1706 4036.9 1683.5 4040.9" stroke-width="3.5" fill="none" />
<path d="M1728.5 4062.9 Q1706 4066.9 1683.5 4062.9" stroke-width="3.5" fill="none" />
<path d="M1734.5 4040.9 Q1757 4036.9 1779.5 4040.9" stroke-width="3.5" fill="none" />
<path d="M1734.5 4062.9 Q1757 4066.9 1779.5 4062.9" stroke-width="3.5" fill="none" />
<line x1="1637.5" y1="3944.1" x2="1692.5" y2="3944.1" stroke-width="5.1" />
<path d="M1639 3944.1 Q1636.5 3947.1 1641 3950.6 L1642.6 3957.1 L1638.5 3961.1" stroke-width="4.9" fill="none" />
<path d="M1691 3944.1 Q1693.5 3947.1 1689 3950.6 L1687.4 3957.1 L1691.5 3961.1" stroke-width="4.9" fill="none" />
<line x1="1640" y1="3950.6" x2="1690" y2="3950.6" stroke-width="4.6" />
<line x1="1642.6" y1="3957.3" x2="1687.4" y2="3957.3" stroke-width="4.6" />
<line x1="1638.5" y1="3963.1" x2="1691.5" y2="3963.1" stroke-width="8" />
<line x1="1639.5" y1="3963.1" x2="1639.5" y2="4001.1" stroke-width="5.3" />
<line x1="1690.5" y1="3963.1" x2="1690.5" y2="4001.1" stroke-width="5.3" />
<path d="M1639.5 4001.1 Q1665 4002.6 1690.5 4001.1" stroke-width="5.1" fill="none" />
<path d="M1639.5 4001.1 C1634 4005.1 1634 4015.1 1642.5 4021.1" stroke-width="5.1" fill="none" />
<path d="M1690.5 4001.1 C1696 4005.1 1696 4015.1 1687.5 4021.1" stroke-width="5.1" fill="none" />
<line x1="1703.1" y1="3944.1" x2="1758.1" y2="3944.1" stroke-width="5.1" />
<path d="M1704.6 3944.1 Q1702.1 3947.1 1706.6 3950.6 L1708.2 3957.1 L1704.1 3961.1" stroke-width="4.9" fill="none" />
<path d="M1756.6 3944.1 Q1759.1 3947.1 1754.6 3950.6 L1753 3957.1 L1757.1 3961.1" stroke-width="4.9" fill="none" />
<line x1="1705.6" y1="3950.6" x2="1755.6" y2="3950.6" stroke-width="4.6" />
<line x1="1708.2" y1="3957.3" x2="1753" y2="3957.3" stroke-width="4.6" />
<line x1="1704.1" y1="3963.1" x2="1757.1" y2="3963.1" stroke-width="8" />
<line x1="1705.1" y1="3963.1" x2="1705.1" y2="4001.1" stroke-width="5.3" />
<line x1="1756.1" y1="3963.1" x2="1756.1" y2="4001.1" stroke-width="5.3" />
<path d="M1705.1 4001.1 Q1730.6 4002.6 1756.1 4001.1" stroke-width="5.1" fill="none" />
<path d="M1705.1 4001.1 C1699.6 4005.1 1699.6 4015.1 1708.1 4021.1" stroke-width="5.1" fill="none" />
<path d="M1756.1 4001.1 C1761.6 4005.1 1761.6 4015.1 1753.1 4021.1" stroke-width="5.1" fill="none" />
<path d="M1692.3 1559.7 L1692.3 3556" stroke-width="4.8" fill="none" stroke-linecap="round" stroke-dasharray="63.5 11 0 9 0 9.3" stroke-dashoffset="0"/>
<text transform="translate(1152 766) rotate(0)" font-size="81" text-anchor="start" textLength="110" lengthAdjust="spacingAndGlyphs">240</text>
<text transform="translate(1105.6 2104) rotate(0)" font-size="81" text-anchor="start" textLength="111" lengthAdjust="spacingAndGlyphs">200</text>
<text transform="translate(1139.5 1640) rotate(7.7)" font-size="81" text-anchor="start" textLength="86" lengthAdjust="spacingAndGlyphs" font-style="italic">15°</text>
<text transform="translate(240 2136.5) rotate(-90)" font-size="81" text-anchor="start" textLength="113.7" lengthAdjust="spacingAndGlyphs">395</text>
<text transform="translate(431.5 2579.6) rotate(-90)" font-size="81" text-anchor="start" textLength="113.7" lengthAdjust="spacingAndGlyphs">235</text>
<circle cx="1386.5" cy="2851.2" r="19.7" stroke-width="5"/>
<line x1="1375.3" y1="2878.8" x2="1397" y2="2824.2" stroke-width="6" stroke-linecap="round"/>
<text transform="translate(1428.7 2881) rotate(0)" font-size="81" text-anchor="start" textLength="71.2" lengthAdjust="spacingAndGlyphs">55</text>
<text transform="translate(1447.6 3471) rotate(0)" font-size="81" text-anchor="start" textLength="112.5" lengthAdjust="spacingAndGlyphs">Ø34</text>
<text transform="translate(2209 3678) rotate(-90)" font-size="81" text-anchor="start" textLength="235" lengthAdjust="spacingAndGlyphs">50 MAX</text>
</g>
<g id="right-view">
<line x1="2787.6" y1="709.8" x2="2787.6" y2="3118" stroke-width="1.9" />
<line x1="3427.8" y1="709.8" x2="3427.8" y2="2402" stroke-width="1.9" />
<line x1="2787.6" y1="721.8" x2="3427.8" y2="721.8" stroke-width="1.9" />
<path d="M2787.6 721.8 L2841.1 714.8 L2841.1 728.8Z" stroke-width="1.8" fill="none" stroke-linejoin="miter"/>
<path d="M3427.8 721.8 L3374.3 728.8 L3374.3 714.8Z" stroke-width="1.8" fill="none" stroke-linejoin="miter"/>
<line x1="3287" y1="2188.5" x2="3536" y2="2188.5" stroke-width="1.9" />
<line x1="3523.8" y1="2188.5" x2="3523.8" y2="4446.2" stroke-width="1.9" />
<path d="M3523.8 2188.5 L3530.8 2242 L3516.8 2242Z" stroke-width="1.8" fill="none" stroke-linejoin="miter"/>
<path d="M3523.8 3122.2 L3516.8 3068.7 L3530.8 3068.7Z" stroke-width="1.8" fill="none" stroke-linejoin="miter"/>
<path d="M3523.8 3122.2 L3530.8 3175.7 L3516.8 3175.7Z" stroke-width="1.8" fill="none" stroke-linejoin="miter"/>
<path d="M3523.8 4446.2 L3516.8 4392.7 L3530.8 4392.7Z" stroke-width="1.8" fill="none" stroke-linejoin="miter"/>
<line x1="2562.5" y1="3122.2" x2="3534" y2="3122.2" stroke-width="1.9" />
<line x1="2574" y1="3122.2" x2="2574" y2="3694.6" stroke-width="1.9" />
<path d="M2574 3122.2 L2581 3175.7 L2567 3175.7Z" stroke-width="1.8" fill="none" stroke-linejoin="miter"/>
<path d="M2574 3694.6 L2567 3641.1 L2581 3641.1Z" stroke-width="1.8" fill="none" stroke-linejoin="miter"/>
<line x1="2563" y1="3694.6" x2="2845" y2="3694.6" stroke-width="1.9" />
<line x1="3021.6" y1="4446.2" x2="3537" y2="4446.2" stroke-width="1.9" />
<line x1="2917.3" y1="4450.8" x2="2917.3" y2="4616" stroke-width="1.9" />
<line x1="3016.3" y1="4450.8" x2="3016.3" y2="4616" stroke-width="1.9" />
<line x1="2810.8" y1="4604.8" x2="3254.6" y2="4604.8" stroke-width="1.9" />
<path d="M2917.3 4604.8 L2863.8 4611.8 L2863.8 4597.8Z" stroke-width="1.8" fill="none" stroke-linejoin="miter"/>
<path d="M3016.3 4604.8 L3069.8 4597.8 L3069.8 4611.8Z" stroke-width="1.8" fill="none" stroke-linejoin="miter"/>
<line x1="2509.3" y1="3776" x2="2939.6" y2="3899" stroke-width="1.9" />
<path d="M2762.5 3848.3 L2712.5 3841.2 L2716.4 3827.8Z" stroke-width="1.8" fill="none" stroke-linejoin="miter"/>
<path d="M2846 3872.2 L2896 3879.3 L2892.1 3892.7Z" stroke-width="1.8" fill="none" stroke-linejoin="miter"/>
<path d="M2840.5 3048 L2840.5 1090 A75.75 76 0 0 1 2992 1090 L2992 2248" stroke-width="5.8" fill="none" />
<path d="M2840.5 1641 A75.75 19.5 0 0 1 2992 1641" stroke-width="5.1" fill="none" />
<ellipse cx="2916" cy="1883.5" rx="73.5" ry="20.5" stroke-width="5.8" fill="none"/>
<ellipse cx="2916" cy="1885.3" rx="66.5" ry="14.5" stroke-width="5.3" fill="none"/>
<line x1="2840.5" y1="2248" x2="2992" y2="2248" stroke-width="5.8" />
<path d="M2992 2248 C2992.1 2256.7 2992.2 2283 2992.5 2300 C2992.8 2317 2993.3 2334.2 2994 2350 C2994.7 2365.8 2995.2 2381.5 2996.5 2395 C2997.8 2408.5 2999.2 2421.5 3001.5 2431 C3003.8 2440.5 3006.6 2446.2 3010 2452 C3013.4 2457.8 3017 2462 3022 2466 C3027 2470 3034 2474 3040 2476 C3046 2478 3051.9 2478.8 3058 2478 C3064.1 2477.2 3071.1 2474.2 3076.5 2471 C3081.9 2467.8 3088.2 2461 3090.5 2459 L3159 2393.4" stroke-width="5.8" fill="none" />
<line x1="3159.5" y1="2394" x2="3283.3" y2="2516.7" stroke-width="13" stroke-linecap="round"/>
<line x1="3170.6" y1="2388.2" x2="3229.6" y2="2448.2" stroke-width="3.5" />
<path d="M3284.5 2520 L3076.4 2728.5 C3072.5 2732.8 3059.7 2743.7 3053 2754.2 C3046.3 2764.7 3040.5 2777.6 3036.5 2791.7 C3032.5 2805.8 3030.2 2830.7 3029 2838.5 L3028.5 3048" stroke-width="5.8" fill="none" />
<path d="M3268.6 2192.2 C3268.1 2195 3267 2202.3 3265.4 2209 C3263.8 2215.7 3261.9 2223.8 3259.1 2232.2 C3256.3 2240.6 3252.6 2250.1 3248.6 2259.6 C3244.6 2269.1 3240.2 2279.3 3234.9 2289.1 C3229.6 2298.9 3223.5 2308.4 3217 2318.6 C3210.5 2328.8 3204.5 2339.7 3195.9 2350.2 C3187.3 2360.7 3170.4 2376.5 3165.3 2381.8 L3170.6 2388.2" stroke-width="5.3" fill="none" />
<path d="M3268.6 2192.2 Q3269.5 2185 3277 2184.6 Q3284 2184.6 3286.5 2189.5" stroke-width="5.3" fill="none" />
<line x1="3270.7" y1="2195.3" x2="3424.6" y2="2406.1" stroke-width="5.3" />
<path d="M3286.5 2189.5 Q3373.2 2283.5 3427.7 2398.7" stroke-width="5.3" fill="none" />
<path d="M3281 2192 Q3359.8 2292.5 3426.5 2402" stroke-width="3.9" fill="none" />
<path d="M3427.7 2398.7 Q3431 2403.5 3425.6 2408.2" stroke-width="5.3" fill="none" />
<path d="M3425.6 2408.2 C3421.7 2410.8 3409.8 2418.9 3402.4 2424 C3395 2429.1 3388.4 2433.7 3381.4 2438.8 C3374.4 2443.9 3366.1 2450.8 3360.3 2454.6 C3354.5 2458.4 3350.5 2458.9 3346.6 2461.9 C3342.7 2464.9 3340.4 2469 3337.1 2472.5 C3333.8 2476 3328.3 2481.2 3326.6 2483 L3229.6 2448.2" stroke-width="5.3" fill="none" />
<path d="M3276 2466.2 L3294.9 2478.8 Q3293 2496 3282.3 2510" stroke-width="5.1" fill="none" />
<line x1="3366.6" y1="2310" x2="3229.6" y2="2447.2" stroke-width="5.3" />
<line x1="2835" y1="3048" x2="3033.2" y2="3048" stroke-width="5.8" />
<path d="M2835 3048 C2833.7 3052 2831.7 3063.2 2827 3071.8 C2822.3 3080.4 2813.4 3091.7 2807.1 3099.6 C2800.8 3107.5 2792.2 3116.2 2789.2 3119.5" stroke-width="5.8" fill="none" />
<path d="M3033.2 3048 C3034.3 3052 3035.2 3063.2 3040 3071.8 C3044.8 3080.4 3054.9 3091.7 3061.9 3099.6 C3068.9 3107.5 3078.5 3116.2 3081.8 3119.5" stroke-width="5.8" fill="none" />
<clipPath id="hl2"><path d="M2657 3122.3 C2659.5 3125.8 2667.7 3135.9 2671.8 3143.4 C2675.9 3150.9 2679.4 3159.3 2681.7 3167.3 C2684 3175.3 2685.7 3182.6 2685.7 3191.2 C2685.7 3199.8 2683.7 3210.4 2681.7 3219 C2679.7 3227.6 2677.3 3234.4 2673.7 3243 C2670 3251.6 2664.4 3261.5 2659.8 3270.8 C2655.2 3280.1 2648.9 3290.7 2645.9 3298.7 C2642.9 3306.7 2641.2 3313.3 2641.9 3318.6 C2642.6 3323.8 2645.6 3327.8 2649.9 3330.2 C2654.2 3332.6 2664.8 3332.4 2667.8 3332.8 L2827.5 3332.8 L2827.5 3122.2Z"/></clipPath>
<g clip-path="url(#hl2)">
<line x1="2319.5" y1="3102.2" x2="2464.1" y2="3352.8" stroke-width="5.3" />
<line x1="2350.2" y1="3102.2" x2="2494.9" y2="3352.8" stroke-width="5.3" />
<line x1="2381" y1="3102.2" x2="2525.6" y2="3352.8" stroke-width="5.3" />
<line x1="2411.7" y1="3102.2" x2="2556.4" y2="3352.8" stroke-width="5.3" />
<line x1="2442.5" y1="3102.2" x2="2587.1" y2="3352.8" stroke-width="5.3" />
<line x1="2473.2" y1="3102.2" x2="2617.9" y2="3352.8" stroke-width="5.3" />
<line x1="2504" y1="3102.2" x2="2648.6" y2="3352.8" stroke-width="5.3" />
<line x1="2534.7" y1="3102.2" x2="2679.4" y2="3352.8" stroke-width="5.3" />
<line x1="2565.5" y1="3102.2" x2="2710.1" y2="3352.8" stroke-width="5.3" />
<line x1="2596.2" y1="3102.2" x2="2740.9" y2="3352.8" stroke-width="5.3" />
<line x1="2627" y1="3102.2" x2="2771.6" y2="3352.8" stroke-width="5.3" />
<line x1="2657.7" y1="3102.2" x2="2802.4" y2="3352.8" stroke-width="5.3" />
<line x1="2688.5" y1="3102.2" x2="2833.1" y2="3352.8" stroke-width="5.3" />
<line x1="2719.2" y1="3102.2" x2="2863.9" y2="3352.8" stroke-width="5.3" />
<line x1="2750" y1="3102.2" x2="2894.6" y2="3352.8" stroke-width="5.3" />
<line x1="2780.7" y1="3102.2" x2="2925.4" y2="3352.8" stroke-width="5.3" />
<line x1="2811.5" y1="3102.2" x2="2956.1" y2="3352.8" stroke-width="5.3" />
<line x1="2842.2" y1="3102.2" x2="2986.9" y2="3352.8" stroke-width="5.3" />
<line x1="2873" y1="3102.2" x2="3017.6" y2="3352.8" stroke-width="5.3" />
</g>
<path d="M2657 3122.3 C2659.5 3125.8 2667.7 3135.9 2671.8 3143.4 C2675.9 3150.9 2679.4 3159.3 2681.7 3167.3 C2684 3175.3 2685.7 3182.6 2685.7 3191.2 C2685.7 3199.8 2683.7 3210.4 2681.7 3219 C2679.7 3227.6 2677.3 3234.4 2673.7 3243 C2670 3251.6 2664.4 3261.5 2659.8 3270.8 C2655.2 3280.1 2648.9 3290.7 2645.9 3298.7 C2642.9 3306.7 2641.2 3313.3 2641.9 3318.6 C2642.6 3323.8 2645.6 3327.8 2649.9 3330.2 C2654.2 3332.6 2664.8 3332.4 2667.8 3332.8 L2827.5 3332.8 L2827.5 3122.2Z" stroke-width="5.8" fill="none" />
<clipPath id="hr2"><path d="M3211.2 3122.3 C3209.2 3125.2 3203.2 3133.2 3199.2 3139.4 C3195.2 3145.6 3189.6 3152.7 3187.3 3159.3 C3185 3165.9 3184.3 3172.6 3185.3 3179.2 C3186.3 3185.8 3189.3 3192.5 3193.3 3199.1 C3197.3 3205.7 3203.2 3212.7 3209.2 3219 C3215.2 3225.3 3222.5 3231 3229.1 3237 C3235.7 3243 3243.7 3248.6 3249 3254.9 C3254.3 3261.2 3258.9 3268.2 3260.9 3274.8 C3262.9 3281.4 3262.9 3288.1 3260.9 3294.7 C3258.9 3301.3 3255 3308.2 3249 3314.6 C3243 3320.9 3229.1 3329.8 3225.1 3332.8 L3039.5 3332.8 L3039.5 3122.2Z"/></clipPath>
<g clip-path="url(#hr2)">
<line x1="2719.2" y1="3102.2" x2="2863.9" y2="3352.8" stroke-width="5.3" />
<line x1="2750" y1="3102.2" x2="2894.6" y2="3352.8" stroke-width="5.3" />
<line x1="2780.7" y1="3102.2" x2="2925.4" y2="3352.8" stroke-width="5.3" />
<line x1="2811.5" y1="3102.2" x2="2956.1" y2="3352.8" stroke-width="5.3" />
<line x1="2842.2" y1="3102.2" x2="2986.9" y2="3352.8" stroke-width="5.3" />
<line x1="2873" y1="3102.2" x2="3017.6" y2="3352.8" stroke-width="5.3" />
<line x1="2903.7" y1="3102.2" x2="3048.4" y2="3352.8" stroke-width="5.3" />
<line x1="2934.5" y1="3102.2" x2="3079.1" y2="3352.8" stroke-width="5.3" />
<line x1="2965.2" y1="3102.2" x2="3109.9" y2="3352.8" stroke-width="5.3" />
<line x1="2996" y1="3102.2" x2="3140.6" y2="3352.8" stroke-width="5.3" />
<line x1="3026.7" y1="3102.2" x2="3171.4" y2="3352.8" stroke-width="5.3" />
<line x1="3057.5" y1="3102.2" x2="3202.1" y2="3352.8" stroke-width="5.3" />
<line x1="3088.2" y1="3102.2" x2="3232.9" y2="3352.8" stroke-width="5.3" />
<line x1="3119" y1="3102.2" x2="3263.6" y2="3352.8" stroke-width="5.3" />
<line x1="3149.7" y1="3102.2" x2="3294.4" y2="3352.8" stroke-width="5.3" />
<line x1="3180.5" y1="3102.2" x2="3325.1" y2="3352.8" stroke-width="5.3" />
<line x1="3211.2" y1="3102.2" x2="3355.9" y2="3352.8" stroke-width="5.3" />
<line x1="3242" y1="3102.2" x2="3386.6" y2="3352.8" stroke-width="5.3" />
<line x1="3272.7" y1="3102.2" x2="3417.4" y2="3352.8" stroke-width="5.3" />
<line x1="3303.5" y1="3102.2" x2="3448.1" y2="3352.8" stroke-width="5.3" />
<line x1="3334.2" y1="3102.2" x2="3478.9" y2="3352.8" stroke-width="5.3" />
</g>
<path d="M3211.2 3122.3 C3209.2 3125.2 3203.2 3133.2 3199.2 3139.4 C3195.2 3145.6 3189.6 3152.7 3187.3 3159.3 C3185 3165.9 3184.3 3172.6 3185.3 3179.2 C3186.3 3185.8 3189.3 3192.5 3193.3 3199.1 C3197.3 3205.7 3203.2 3212.7 3209.2 3219 C3215.2 3225.3 3222.5 3231 3229.1 3237 C3235.7 3243 3243.7 3248.6 3249 3254.9 C3254.3 3261.2 3258.9 3268.2 3260.9 3274.8 C3262.9 3281.4 3262.9 3288.1 3260.9 3294.7 C3258.9 3301.3 3255 3308.2 3249 3314.6 C3243 3320.9 3229.1 3329.8 3225.1 3332.8 L3039.5 3332.8 L3039.5 3122.2Z" stroke-width="5.8" fill="none" />
<line x1="2657" y1="3122.2" x2="3211.2" y2="3122.2" stroke-width="5.8" />
<line x1="2845.5" y1="3122.2" x2="2845.5" y2="3332.8" stroke-width="8" />
<line x1="3022" y1="3122.2" x2="3022" y2="3332.8" stroke-width="8" />
<rect x="2800" y="3332.8" width="268.7" height="11.7" stroke-width="5.1" fill="none"/>
<rect x="2820.2" y="3344.5" width="229.8" height="29.8" stroke-width="5.3" fill="none"/>
<line x1="2878.8" y1="3344.5" x2="2878.8" y2="3374.3" stroke-width="5.1" />
<line x1="2936" y1="3344.5" x2="2936" y2="3374.3" stroke-width="5.1" />
<line x1="2992.2" y1="3344.5" x2="2992.2" y2="3374.3" stroke-width="5.1" />
<path d="M2843.2 3374.3 L2843.2 3408 L2847.5 3413 L3022 3413 L3026.2 3408 L3026.2 3374.3" stroke-width="5.8" fill="none" />
<line x1="2845" y1="3412.3" x2="3025" y2="3412.3" stroke-width="10.5" />
<line x1="2935.5" y1="3374" x2="2935.5" y2="3411" stroke-width="4.6" />
<clipPath id="cus"><path d="M2940.8 3416 L2940.8 3637.1 C2941.7 3635.3 2944.1 3629.2 2946.2 3626.6 C2948.3 3624 2950.9 3621.8 2953.2 3621.3 C2955.5 3620.9 2957.3 3621.3 2960.2 3623.9 C2963.1 3626.5 2967.4 3633.7 2970.8 3637.1 C2974.2 3640.5 2977.5 3643.8 2980.4 3644.1 C2983.3 3644.4 2986.2 3641.8 2988.3 3638.9 C2990.4 3636 2992.2 3628.7 2993 3626.6 L2993 3416Z"/></clipPath><g clip-path="url(#cus)">
<line x1="2935.8" y1="3157.9" x2="2998" y2="3265.7" stroke-width="1.5" />
<line x1="2935.8" y1="3265.7" x2="2998" y2="3157.9" stroke-width="1.5" />
<line x1="2935.8" y1="3189.5" x2="2998" y2="3297.3" stroke-width="1.5" />
<line x1="2935.8" y1="3297.3" x2="2998" y2="3189.5" stroke-width="1.5" />
<line x1="2935.8" y1="3221.1" x2="2998" y2="3328.9" stroke-width="1.5" />
<line x1="2935.8" y1="3328.9" x2="2998" y2="3221.1" stroke-width="1.5" />
<line x1="2935.8" y1="3252.7" x2="2998" y2="3360.5" stroke-width="1.5" />
<line x1="2935.8" y1="3360.5" x2="2998" y2="3252.7" stroke-width="1.5" />
<line x1="2935.8" y1="3284.3" x2="2998" y2="3392.1" stroke-width="1.5" />
<line x1="2935.8" y1="3392.1" x2="2998" y2="3284.3" stroke-width="1.5" />
<line x1="2935.8" y1="3315.9" x2="2998" y2="3423.7" stroke-width="1.5" />
<line x1="2935.8" y1="3423.7" x2="2998" y2="3315.9" stroke-width="1.5" />
<line x1="2935.8" y1="3347.5" x2="2998" y2="3455.3" stroke-width="1.5" />
<line x1="2935.8" y1="3455.3" x2="2998" y2="3347.5" stroke-width="1.5" />
<line x1="2935.8" y1="3379.1" x2="2998" y2="3486.9" stroke-width="1.5" />
<line x1="2935.8" y1="3486.9" x2="2998" y2="3379.1" stroke-width="1.5" />
<line x1="2935.8" y1="3410.7" x2="2998" y2="3518.5" stroke-width="1.5" />
<line x1="2935.8" y1="3518.5" x2="2998" y2="3410.7" stroke-width="1.5" />
<line x1="2935.8" y1="3442.3" x2="2998" y2="3550.1" stroke-width="1.5" />
<line x1="2935.8" y1="3550.1" x2="2998" y2="3442.3" stroke-width="1.5" />
<line x1="2935.8" y1="3473.9" x2="2998" y2="3581.7" stroke-width="1.5" />
<line x1="2935.8" y1="3581.7" x2="2998" y2="3473.9" stroke-width="1.5" />
<line x1="2935.8" y1="3505.5" x2="2998" y2="3613.3" stroke-width="1.5" />
<line x1="2935.8" y1="3613.3" x2="2998" y2="3505.5" stroke-width="1.5" />
<line x1="2935.8" y1="3537.1" x2="2998" y2="3644.9" stroke-width="1.5" />
<line x1="2935.8" y1="3644.9" x2="2998" y2="3537.1" stroke-width="1.5" />
<line x1="2935.8" y1="3568.7" x2="2998" y2="3676.5" stroke-width="1.5" />
<line x1="2935.8" y1="3676.5" x2="2998" y2="3568.7" stroke-width="1.5" />
<line x1="2935.8" y1="3600.3" x2="2998" y2="3708.1" stroke-width="1.5" />
<line x1="2935.8" y1="3708.1" x2="2998" y2="3600.3" stroke-width="1.5" />
<line x1="2935.8" y1="3631.9" x2="2998" y2="3739.7" stroke-width="1.5" />
<line x1="2935.8" y1="3739.7" x2="2998" y2="3631.9" stroke-width="1.5" />
<line x1="2935.8" y1="3663.5" x2="2998" y2="3771.3" stroke-width="1.5" />
<line x1="2935.8" y1="3771.3" x2="2998" y2="3663.5" stroke-width="1.5" />
<line x1="2935.8" y1="3695.1" x2="2998" y2="3802.9" stroke-width="1.5" />
<line x1="2935.8" y1="3802.9" x2="2998" y2="3695.1" stroke-width="1.5" />
<line x1="2935.8" y1="3726.7" x2="2998" y2="3834.5" stroke-width="1.5" />
<line x1="2935.8" y1="3834.5" x2="2998" y2="3726.7" stroke-width="1.5" />
<line x1="2935.8" y1="3758.3" x2="2998" y2="3866.1" stroke-width="1.5" />
<line x1="2935.8" y1="3866.1" x2="2998" y2="3758.3" stroke-width="1.5" />
<line x1="2935.8" y1="3789.9" x2="2998" y2="3897.7" stroke-width="1.5" />
<line x1="2935.8" y1="3897.7" x2="2998" y2="3789.9" stroke-width="1.5" />
<line x1="2935.8" y1="3821.5" x2="2998" y2="3929.3" stroke-width="1.5" />
<line x1="2935.8" y1="3929.3" x2="2998" y2="3821.5" stroke-width="1.5" />
</g>
<path d="M2940.8 3416 L2940.8 3637.1 C2941.7 3635.3 2944.1 3629.2 2946.2 3626.6 C2948.3 3624 2950.9 3621.8 2953.2 3621.3 C2955.5 3620.9 2957.3 3621.3 2960.2 3623.9 C2963.1 3626.5 2967.4 3633.7 2970.8 3637.1 C2974.2 3640.5 2977.5 3643.8 2980.4 3644.1 C2983.3 3644.4 2986.2 3641.8 2988.3 3638.9 C2990.4 3636 2992.2 3628.7 2993 3626.6 L2993 3416" stroke-width="5.6" fill="none" />
<clipPath id="cls"><path d="M2940.8 4316.2 L2940.8 3663.5 C2941.4 3662 2942.6 3657 2944.4 3654.7 C2946.2 3652.3 2948.8 3649.7 2951.4 3649.4 C2954 3649.1 2957 3650.4 2960.2 3652.9 C2963.4 3655.4 2967.6 3661.7 2970.8 3664.3 C2974 3666.9 2976.8 3668.8 2979.6 3668.7 C2982.4 3668.6 2985.3 3666 2987.5 3663.5 C2989.7 3661 2992.1 3655.4 2993 3653.8 L2993 4316.2Z"/></clipPath><g clip-path="url(#cls)">
<line x1="2935.8" y1="3383.1" x2="2998" y2="3490.9" stroke-width="1.5" />
<line x1="2935.8" y1="3490.9" x2="2998" y2="3383.1" stroke-width="1.5" />
<line x1="2935.8" y1="3414.7" x2="2998" y2="3522.5" stroke-width="1.5" />
<line x1="2935.8" y1="3522.5" x2="2998" y2="3414.7" stroke-width="1.5" />
<line x1="2935.8" y1="3446.3" x2="2998" y2="3554.1" stroke-width="1.5" />
<line x1="2935.8" y1="3554.1" x2="2998" y2="3446.3" stroke-width="1.5" />
<line x1="2935.8" y1="3477.9" x2="2998" y2="3585.7" stroke-width="1.5" />
<line x1="2935.8" y1="3585.7" x2="2998" y2="3477.9" stroke-width="1.5" />
<line x1="2935.8" y1="3509.5" x2="2998" y2="3617.3" stroke-width="1.5" />
<line x1="2935.8" y1="3617.3" x2="2998" y2="3509.5" stroke-width="1.5" />
<line x1="2935.8" y1="3541.1" x2="2998" y2="3648.9" stroke-width="1.5" />
<line x1="2935.8" y1="3648.9" x2="2998" y2="3541.1" stroke-width="1.5" />
<line x1="2935.8" y1="3572.7" x2="2998" y2="3680.5" stroke-width="1.5" />
<line x1="2935.8" y1="3680.5" x2="2998" y2="3572.7" stroke-width="1.5" />
<line x1="2935.8" y1="3604.3" x2="2998" y2="3712.1" stroke-width="1.5" />
<line x1="2935.8" y1="3712.1" x2="2998" y2="3604.3" stroke-width="1.5" />
<line x1="2935.8" y1="3635.9" x2="2998" y2="3743.7" stroke-width="1.5" />
<line x1="2935.8" y1="3743.7" x2="2998" y2="3635.9" stroke-width="1.5" />
<line x1="2935.8" y1="3667.5" x2="2998" y2="3775.3" stroke-width="1.5" />
<line x1="2935.8" y1="3775.3" x2="2998" y2="3667.5" stroke-width="1.5" />
<line x1="2935.8" y1="3699.1" x2="2998" y2="3806.9" stroke-width="1.5" />
<line x1="2935.8" y1="3806.9" x2="2998" y2="3699.1" stroke-width="1.5" />
<line x1="2935.8" y1="3730.7" x2="2998" y2="3838.5" stroke-width="1.5" />
<line x1="2935.8" y1="3838.5" x2="2998" y2="3730.7" stroke-width="1.5" />
<line x1="2935.8" y1="3762.3" x2="2998" y2="3870.1" stroke-width="1.5" />
<line x1="2935.8" y1="3870.1" x2="2998" y2="3762.3" stroke-width="1.5" />
<line x1="2935.8" y1="3793.9" x2="2998" y2="3901.7" stroke-width="1.5" />
<line x1="2935.8" y1="3901.7" x2="2998" y2="3793.9" stroke-width="1.5" />
<line x1="2935.8" y1="3825.5" x2="2998" y2="3933.3" stroke-width="1.5" />
<line x1="2935.8" y1="3933.3" x2="2998" y2="3825.5" stroke-width="1.5" />
<line x1="2935.8" y1="3857.1" x2="2998" y2="3964.9" stroke-width="1.5" />
<line x1="2935.8" y1="3964.9" x2="2998" y2="3857.1" stroke-width="1.5" />
<line x1="2935.8" y1="3888.7" x2="2998" y2="3996.5" stroke-width="1.5" />
<line x1="2935.8" y1="3996.5" x2="2998" y2="3888.7" stroke-width="1.5" />
<line x1="2935.8" y1="3920.3" x2="2998" y2="4028.1" stroke-width="1.5" />
<line x1="2935.8" y1="4028.1" x2="2998" y2="3920.3" stroke-width="1.5" />
<line x1="2935.8" y1="3951.9" x2="2998" y2="4059.7" stroke-width="1.5" />
<line x1="2935.8" y1="4059.7" x2="2998" y2="3951.9" stroke-width="1.5" />
<line x1="2935.8" y1="3983.5" x2="2998" y2="4091.3" stroke-width="1.5" />
<line x1="2935.8" y1="4091.3" x2="2998" y2="3983.5" stroke-width="1.5" />
<line x1="2935.8" y1="4015.1" x2="2998" y2="4122.9" stroke-width="1.5" />
<line x1="2935.8" y1="4122.9" x2="2998" y2="4015.1" stroke-width="1.5" />
<line x1="2935.8" y1="4046.7" x2="2998" y2="4154.5" stroke-width="1.5" />
<line x1="2935.8" y1="4154.5" x2="2998" y2="4046.7" stroke-width="1.5" />
<line x1="2935.8" y1="4078.3" x2="2998" y2="4186.1" stroke-width="1.5" />
<line x1="2935.8" y1="4186.1" x2="2998" y2="4078.3" stroke-width="1.5" />
<line x1="2935.8" y1="4109.9" x2="2998" y2="4217.7" stroke-width="1.5" />
<line x1="2935.8" y1="4217.7" x2="2998" y2="4109.9" stroke-width="1.5" />
<line x1="2935.8" y1="4141.5" x2="2998" y2="4249.3" stroke-width="1.5" />
<line x1="2935.8" y1="4249.3" x2="2998" y2="4141.5" stroke-width="1.5" />
<line x1="2935.8" y1="4173.1" x2="2998" y2="4280.9" stroke-width="1.5" />
<line x1="2935.8" y1="4280.9" x2="2998" y2="4173.1" stroke-width="1.5" />
<line x1="2935.8" y1="4204.7" x2="2998" y2="4312.5" stroke-width="1.5" />
<line x1="2935.8" y1="4312.5" x2="2998" y2="4204.7" stroke-width="1.5" />
<line x1="2935.8" y1="4236.3" x2="2998" y2="4344.1" stroke-width="1.5" />
<line x1="2935.8" y1="4344.1" x2="2998" y2="4236.3" stroke-width="1.5" />
<line x1="2935.8" y1="4267.9" x2="2998" y2="4375.7" stroke-width="1.5" />
<line x1="2935.8" y1="4375.7" x2="2998" y2="4267.9" stroke-width="1.5" />
<line x1="2935.8" y1="4299.5" x2="2998" y2="4407.3" stroke-width="1.5" />
<line x1="2935.8" y1="4407.3" x2="2998" y2="4299.5" stroke-width="1.5" />
<line x1="2935.8" y1="4331.1" x2="2998" y2="4438.9" stroke-width="1.5" />
<line x1="2935.8" y1="4438.9" x2="2998" y2="4331.1" stroke-width="1.5" />
<line x1="2935.8" y1="4362.7" x2="2998" y2="4470.5" stroke-width="1.5" />
<line x1="2935.8" y1="4470.5" x2="2998" y2="4362.7" stroke-width="1.5" />
<line x1="2935.8" y1="4394.3" x2="2998" y2="4502.1" stroke-width="1.5" />
<line x1="2935.8" y1="4502.1" x2="2998" y2="4394.3" stroke-width="1.5" />
<line x1="2935.8" y1="4425.9" x2="2998" y2="4533.7" stroke-width="1.5" />
<line x1="2935.8" y1="4533.7" x2="2998" y2="4425.9" stroke-width="1.5" />
<line x1="2935.8" y1="4457.5" x2="2998" y2="4565.3" stroke-width="1.5" />
<line x1="2935.8" y1="4565.3" x2="2998" y2="4457.5" stroke-width="1.5" />
<line x1="2935.8" y1="4489.1" x2="2998" y2="4596.9" stroke-width="1.5" />
<line x1="2935.8" y1="4596.9" x2="2998" y2="4489.1" stroke-width="1.5" />
</g>
<path d="M2940.8 4316.2 L2940.8 3663.5 C2941.4 3662 2942.6 3657 2944.4 3654.7 C2946.2 3652.3 2948.8 3649.7 2951.4 3649.4 C2954 3649.1 2957 3650.4 2960.2 3652.9 C2963.4 3655.4 2967.6 3661.7 2970.8 3664.3 C2974 3666.9 2976.8 3668.8 2979.6 3668.7 C2982.4 3668.6 2985.3 3666 2987.5 3663.5 C2989.7 3661 2992.1 3655.4 2993 3653.8 L2993 4316.2" stroke-width="5.6" fill="none" />
<path d="M2924.3 4393.5 L3010.3 4393.5 Q3014.3 4393.5 3015.8 4397.5 L3018.6 4406.5 L3018.6 4440.5 L3016.8 4440.5 L3016.8 4449.5 L2917.8 4449.5 L2917.8 4440.5 L2916 4440.5 L2916 4406.5 L2918.8 4397.5 Q2920.3 4393.5 2924.3 4393.5Z" stroke-width="5.3" fill="#fff" />
<line x1="2916" y1="4407.5" x2="3018.6" y2="4407.5" stroke-width="6" />
<line x1="2916" y1="4440" x2="3018.6" y2="4440" stroke-width="6" />
<line x1="2918.3" y1="4445.5" x2="3016.3" y2="4445.5" stroke-width="2.2" stroke="#fff"/>
<line x1="2966.8" y1="4407.5" x2="2966.8" y2="4440.5" stroke-width="5.8" />
<path d="M2964.3 4413 Q2941.8 4409 2919.3 4413" stroke-width="3.5" fill="none" />
<path d="M2964.3 4435 Q2941.8 4439 2919.3 4435" stroke-width="3.5" fill="none" />
<path d="M2970.3 4413 Q2992.8 4409 3015.3 4413" stroke-width="3.5" fill="none" />
<path d="M2970.3 4435 Q2992.8 4439 3015.3 4435" stroke-width="3.5" fill="none" />
<line x1="2939.3" y1="4316.2" x2="2994.7" y2="4316.2" stroke-width="5.1" />
<path d="M2940.8 4316.2 Q2938.3 4319.2 2942.8 4322.7 L2944.6 4329.2 L2940.3 4333.2" stroke-width="4.9" fill="none" />
<path d="M2993.2 4316.2 Q2995.7 4319.2 2991.2 4322.7 L2989.4 4329.2 L2993.7 4333.2" stroke-width="4.9" fill="none" />
<line x1="2941.8" y1="4322.7" x2="2992.2" y2="4322.7" stroke-width="4.6" />
<line x1="2944.6" y1="4329.4" x2="2989.4" y2="4329.4" stroke-width="4.6" />
<line x1="2940.3" y1="4335.2" x2="2993.7" y2="4335.2" stroke-width="8" />
<line x1="2941.5" y1="4335.2" x2="2941.5" y2="4373.2" stroke-width="5.3" />
<line x1="2992.5" y1="4335.2" x2="2992.5" y2="4373.2" stroke-width="5.3" />
<path d="M2941.5 4373.2 Q2967 4374.7 2992.5 4373.2" stroke-width="5.1" fill="none" />
<path d="M2941.5 4373.2 C2936 4377.2 2936 4387.2 2944.5 4393.2" stroke-width="5.1" fill="none" />
<path d="M2992.5 4373.2 C2998 4377.2 2998 4387.2 2989.5 4393.2" stroke-width="5.1" fill="none" />
<clipPath id="cb"><path d="M2871.5 3416 C2871.5 3422.1 2872.1 3440.1 2871.5 3452.7 C2870.9 3465.2 2869.6 3479.6 2868 3491.3 C2866.4 3503 2864.4 3511.9 2861.9 3523 C2859.4 3534.1 2854.6 3552.2 2853.1 3558.1 L2899.6 3568.6 C2901.5 3561.6 2907.8 3540 2911 3526.5 C2914.2 3513 2916.9 3500.1 2919 3487.8 C2921.1 3475.5 2922.4 3464.7 2923.3 3452.7 C2924.2 3440.7 2924 3422.1 2924.2 3416Z"/></clipPath><g clip-path="url(#cb)">
<line x1="2840" y1="3120" x2="2935" y2="3284.5" stroke-width="1.5" />
<line x1="2840" y1="3303.6" x2="2935" y2="3139.1" stroke-width="1.5" />
<line x1="2840" y1="3151.6" x2="2935" y2="3316.1" stroke-width="1.5" />
<line x1="2840" y1="3335.2" x2="2935" y2="3170.7" stroke-width="1.5" />
<line x1="2840" y1="3183.2" x2="2935" y2="3347.7" stroke-width="1.5" />
<line x1="2840" y1="3366.8" x2="2935" y2="3202.3" stroke-width="1.5" />
<line x1="2840" y1="3214.8" x2="2935" y2="3379.3" stroke-width="1.5" />
<line x1="2840" y1="3398.4" x2="2935" y2="3233.9" stroke-width="1.5" />
<line x1="2840" y1="3246.4" x2="2935" y2="3410.9" stroke-width="1.5" />
<line x1="2840" y1="3430" x2="2935" y2="3265.5" stroke-width="1.5" />
<line x1="2840" y1="3278" x2="2935" y2="3442.5" stroke-width="1.5" />
<line x1="2840" y1="3461.6" x2="2935" y2="3297.1" stroke-width="1.5" />
<line x1="2840" y1="3309.6" x2="2935" y2="3474.1" stroke-width="1.5" />
<line x1="2840" y1="3493.2" x2="2935" y2="3328.7" stroke-width="1.5" />
<line x1="2840" y1="3341.2" x2="2935" y2="3505.7" stroke-width="1.5" />
<line x1="2840" y1="3524.8" x2="2935" y2="3360.3" stroke-width="1.5" />
<line x1="2840" y1="3372.8" x2="2935" y2="3537.3" stroke-width="1.5" />
<line x1="2840" y1="3556.4" x2="2935" y2="3391.9" stroke-width="1.5" />
<line x1="2840" y1="3404.4" x2="2935" y2="3568.9" stroke-width="1.5" />
<line x1="2840" y1="3588" x2="2935" y2="3423.5" stroke-width="1.5" />
<line x1="2840" y1="3436" x2="2935" y2="3600.5" stroke-width="1.5" />
<line x1="2840" y1="3619.6" x2="2935" y2="3455.1" stroke-width="1.5" />
<line x1="2840" y1="3467.6" x2="2935" y2="3632.1" stroke-width="1.5" />
<line x1="2840" y1="3651.2" x2="2935" y2="3486.7" stroke-width="1.5" />
<line x1="2840" y1="3499.2" x2="2935" y2="3663.7" stroke-width="1.5" />
<line x1="2840" y1="3682.8" x2="2935" y2="3518.3" stroke-width="1.5" />
<line x1="2840" y1="3530.8" x2="2935" y2="3695.3" stroke-width="1.5" />
<line x1="2840" y1="3714.4" x2="2935" y2="3549.9" stroke-width="1.5" />
<line x1="2840" y1="3562.4" x2="2935" y2="3726.9" stroke-width="1.5" />
<line x1="2840" y1="3746" x2="2935" y2="3581.5" stroke-width="1.5" />
<line x1="2840" y1="3594" x2="2935" y2="3758.5" stroke-width="1.5" />
<line x1="2840" y1="3777.6" x2="2935" y2="3613.1" stroke-width="1.5" />
<line x1="2840" y1="3625.6" x2="2935" y2="3790.1" stroke-width="1.5" />
<line x1="2840" y1="3809.2" x2="2935" y2="3644.7" stroke-width="1.5" />
<line x1="2840" y1="3657.2" x2="2935" y2="3821.7" stroke-width="1.5" />
<line x1="2840" y1="3840.8" x2="2935" y2="3676.3" stroke-width="1.5" />
<line x1="2840" y1="3688.8" x2="2935" y2="3853.3" stroke-width="1.5" />
<line x1="2840" y1="3872.4" x2="2935" y2="3707.9" stroke-width="1.5" />
</g>
<path d="M2871.5 3416 C2871.5 3422.1 2872.1 3440.1 2871.5 3452.7 C2870.9 3465.2 2869.6 3479.6 2868 3491.3 C2866.4 3503 2864.4 3511.9 2861.9 3523 C2859.4 3534.1 2854.6 3552.2 2853.1 3558.1" stroke-width="5.6" fill="none" />
<path d="M2924.2 3416 C2924 3422.1 2924.2 3440.7 2923.3 3452.7 C2922.4 3464.7 2921.1 3475.5 2919 3487.8 C2916.9 3500.1 2914.2 3513 2911 3526.5 C2907.8 3540 2901.5 3561.6 2899.6 3568.6" stroke-width="5.6" fill="none" />
<g transform="translate(2873.3 3566) rotate(14)">
<rect x="-28" y="0" width="56" height="8" stroke-width="5.1" fill="#fff"/>
<path d="M-23 8 L-23 16 M23 8 L23 16" stroke-width="4.9" fill="none" />
<line x1="-27.5" y1="18" x2="27.5" y2="18" stroke-width="7.5" />
<path d="M-27 18 L-27 59 L27 59 L27 18" stroke-width="5.3" fill="#fff" />
<line x1="-27.5" y1="18" x2="27.5" y2="18" stroke-width="7.5" />
<line x1="-3.2" y1="18" x2="-3.2" y2="59" stroke-width="4.2" />
<line x1="3.2" y1="18" x2="3.2" y2="59" stroke-width="4.2" />
<path d="M-27 59 C-32.5 63 -32.5 74 -24 80 L24 80 C32.5 74 32.5 63 27 59" stroke-width="5.1" fill="#fff" />
<path d="M-43 80 L43 80 Q48 80 49.5 84 L52 92 L52 133 L-52 133 L-52 92 L-49.5 84 Q-48 80 -43 80Z" stroke-width="5.3" fill="#fff" />
<line x1="-52" y1="94" x2="52" y2="94" stroke-width="7.5" />
<line x1="-52" y1="126" x2="52" y2="126" stroke-width="7" />
<line x1="-1" y1="94" x2="-1" y2="127" stroke-width="9" />
</g>
<g transform="translate(2815.6 3814.2) rotate(16)">
<path d="M-36 -1 L36 -1 L40.5 4 L40.5 77 L-40 77 L-40 4Z" stroke-width="5.6" fill="#fff" />
<path d="M-35.5 4.5 L36 4.5 L36 44.5 L-35.5 44.5Z" stroke-width="6.4" fill="none" />
<path d="M-31 77 L-31 122 M29.5 77 L29.5 122" stroke-width="5.3" fill="none" />
<line x1="-33" y1="81.5" x2="31" y2="81.5" stroke-width="4.9" />
<line x1="-24" y1="82" x2="-24" y2="122" stroke-width="8" />
<line x1="19.5" y1="82" x2="19.5" y2="122" stroke-width="4.9" />
<line x1="-3.3" y1="82" x2="-3.3" y2="122" stroke-width="4.6" />
<line x1="3.3" y1="82" x2="3.3" y2="122" stroke-width="4.6" />
<rect x="-39" y="122" width="76" height="16" rx="8" ry="8" stroke-width="4.6" fill="#fff"/>
<path d="M-35 138 L-35 193 M32.5 138 L32.5 193" stroke-width="5.3" fill="none" />
<path d="M-35 193 L-40.5 199 L-40.5 223 L37 223 L37 199 L32.5 193Z" stroke-width="5.3" fill="#fff" />
<line x1="-40.5" y1="203" x2="37" y2="203" stroke-width="6.4" />
<path d="M-33.5 223 L-34 252 C-32.7 250.5 -28.8 244.5 -26 243 C-23.2 241.5 -20 240.8 -17 243 C-14 245.2 -10.7 252.2 -8 256 C-5.3 259.8 -3.7 263.7 -1 266 C1.7 268.3 4.8 269.8 8 270 C11.2 270.2 14.7 268.3 18 267 C21.3 265.7 26.3 262.8 28 262 L29.5 223" stroke-width="5.3" fill="none" />
</g>
<rect x="3131" y="3628.8" width="183" height="277.8" stroke-width="5.3" fill="none"/>
<line x1="3217" y1="3628.8" x2="3217" y2="3906.6" stroke-width="5.3" />
<line x1="3224.8" y1="3628.8" x2="3224.8" y2="3906.6" stroke-width="7.5" />
<ellipse cx="3162.6" cy="3767.6" rx="18" ry="29.6" stroke-width="5.1" fill="none"/>
<line x1="3155.5" y1="3767.6" x2="3270.6" y2="3767.6" stroke-width="4.9" stroke-linecap="round"/>
<path d="M2915.6 1080.3 L2915.6 2560" stroke-width="4.8" fill="none" stroke-linecap="round" stroke-dasharray="59 10.5 0 9.1 0 10.9" stroke-dashoffset="14.7"/>
<path d="M2934.5 2491.7 L2934.5 3488" stroke-width="4.8" fill="none" stroke-linecap="round" stroke-dasharray="64.7 10 0 9.2 0 10.8" stroke-dashoffset="0"/>
<path d="M3434.7 2243.7 L2999.8 2678.6" stroke-width="4.8" fill="none" stroke-linecap="round" stroke-dasharray="63.5 11 0 9 0 9.3" stroke-dashoffset="16"/>
<path d="M2904 3447.4 L2839.9 3717.9" stroke-width="4.8" fill="none" stroke-linecap="round" stroke-dasharray="78 10 0 10 0 10 400 0" stroke-dashoffset="0"/>
<path d="M2836.9 3728.4 L2834.6 3738.1 L2832.4 3748 L2825.8 3780 L2781 3929.3" stroke-width="4.8" fill="none" stroke-linecap="round" stroke-dasharray="0 10 0 10 500 0" stroke-dashoffset="0"/>
<circle cx="2779.8" cy="3943.3" r="2.4" fill="#000" stroke="none"/>
<path d="M2775.7 3956.5 L2755.5 4036.4 L2746.7 4059.3 L2740.6 4069.8 L2738 4092.6" stroke-width="4.8" fill="none" stroke-linecap="round" stroke-dasharray="500 0" stroke-dashoffset="0"/>
<path d="M2738 4100.5 C2737.6 4104.6 2734.9 4116.4 2735.8 4125 C2736.7 4133.6 2737.7 4139.8 2743.4 4152.2 C2749.1 4164.6 2758.6 4185.4 2769.8 4199.1 C2781 4212.8 2796.2 4225.2 2810.8 4234.2 C2825.4 4243.2 2843 4249 2857.6 4252.9 C2872.2 4256.8 2884.9 4257.6 2898.6 4257.6 C2912.3 4257.6 2923.8 4256.3 2939.6 4252.9 C2955.4 4249.5 2975.8 4243.6 2993.4 4237.1 C3011 4230.6 3027.6 4223.9 3045 4213.7 C3062.4 4203.4 3082.1 4188.8 3097.7 4175.6 C3113.3 4162.4 3126.6 4148.1 3138.7 4134.7 C3150.8 4121.3 3160.8 4108.9 3170 4095 C3179.2 4081.1 3187.4 4065.8 3194 4051.5 C3200.6 4037.2 3205.7 4022.3 3209.8 4009.4 C3213.9 3996.5 3216.5 3986 3218.6 3974.3 C3220.7 3962.6 3221.9 3950.3 3222.5 3939.1 C3223.1 3927.8 3222.3 3912.2 3222.3 3906.8" stroke-width="4.4" fill="none" stroke-linecap="round" stroke-dasharray="0 9 0 9.3 63.5 11" stroke-dashoffset="0"/>
<path d="M3222.2 3629 C3222.2 3627.4 3222.9 3625.1 3222 3619.4 C3221.1 3613.7 3220.4 3603.7 3216.9 3594.9 C3213.4 3586.1 3208.4 3575.5 3201.1 3566.7 C3193.8 3557.9 3183.6 3549.2 3173 3542.2 C3162.4 3535.2 3150.7 3531 3137.8 3524.6 C3124.9 3518.2 3110 3510.8 3095.5 3503.8 C3081 3496.8 3062.1 3489.4 3050.7 3482.8 C3039.3 3476.2 3033.2 3470.9 3027 3464.3 C3020.8 3457.7 3016.9 3451.1 3013.8 3443.2 C3010.7 3435.3 3009.5 3421.4 3008.6 3417" stroke-width="4.4" fill="none" stroke-linecap="round" stroke-dasharray="63.5 11 0 9 0 9.3" stroke-dashoffset="20"/>
<path d="M2780.2 1696.6 A106.8 54.7 0 0 0 2673.4 1751.3 A106.8 54.7 0 0 0 2754.8 1804.4 L2754.8 1839.1 A106.8 54.7 0 0 1 2673.4 1786 L2673.4 1751.3" stroke-width="4.2" fill="none" />
<path d="M2780.2 1731.3 A106.8 54.7 0 0 0 2679.5 1767.8" stroke-width="4.2" fill="none" />
<path d="M2780.2 1696.6 L2780.2 1689 L2804.7 1715.7 L2780.2 1739.5 L2780.2 1731.3" stroke-width="4.2" fill="none" />
<path d="M3058.3 1817.2 A106.8 54.7 0 0 0 3165.1 1762.5 A106.8 54.7 0 0 0 3081.9 1709.2 L3081.9 1743.9 A106.8 54.7 0 0 1 3158.6 1778.4" stroke-width="4.2" fill="none" />
<path d="M3165.1 1762.5 L3165.1 1797.2 A106.8 54.7 0 0 1 3058.3 1851.9" stroke-width="4.2" fill="none" />
<path d="M3058.3 1817.2 L3058.3 1807.8 L3032.9 1832.8 L3058.3 1859.5 L3058.3 1851.9" stroke-width="4.2" fill="none" />
<text transform="translate(3025 713) rotate(0)" font-size="81" text-anchor="start" textLength="97" lengthAdjust="spacingAndGlyphs">120</text>
<text transform="translate(3198.5 1796.5) rotate(0)" font-size="66" text-anchor="start" textLength="124.5" lengthAdjust="spacingAndGlyphs">170°</text>
<text transform="translate(3516.7 2745.8) rotate(-90)" font-size="81" text-anchor="start" textLength="95.5" lengthAdjust="spacingAndGlyphs">175</text>
<text transform="translate(2564.4 3433.2) rotate(-90)" font-size="81" text-anchor="start" textLength="111.4" lengthAdjust="spacingAndGlyphs">220</text>
<text transform="translate(3517.2 3840) rotate(-90)" font-size="81" text-anchor="start" textLength="110" lengthAdjust="spacingAndGlyphs">520</text>
<text transform="translate(3090.6 4596) rotate(0)" font-size="82" text-anchor="start" textLength="168" lengthAdjust="spacingAndGlyphs">G3/8"</text>
<text transform="translate(2504.5 3758.5) rotate(16)" font-size="78" text-anchor="start" textLength="172" lengthAdjust="spacingAndGlyphs" font-style="italic">G3/8"</text>
</g>
</svg>
</body></html>
